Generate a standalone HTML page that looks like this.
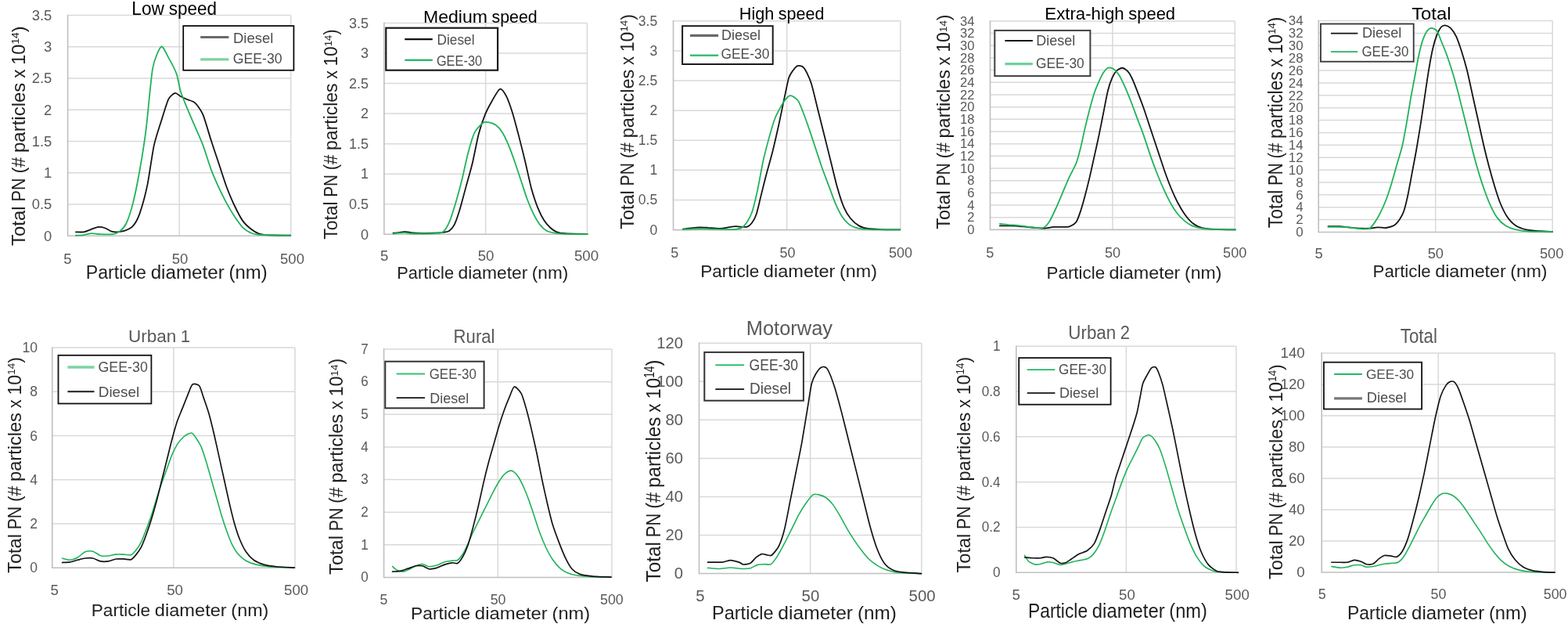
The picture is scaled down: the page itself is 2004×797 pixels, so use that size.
<!DOCTYPE html>
<html><head><meta charset="utf-8"><style>
html,body{margin:0;padding:0;background:#fff;}
svg{display:block;}
text{font-family:"Liberation Sans",Arial,sans-serif;}
</style></head><body>
<svg width="2004" height="797" viewBox="0 0 2004 797">
<rect width="2004" height="797" fill="#fff"/>
<g>
<line x1="86.60" y1="260.96" x2="371.70" y2="260.96" stroke="#d9d9d9" stroke-width="1.5"/>
<line x1="86.60" y1="220.71" x2="371.70" y2="220.71" stroke="#d9d9d9" stroke-width="1.5"/>
<line x1="86.60" y1="180.47" x2="371.70" y2="180.47" stroke="#d9d9d9" stroke-width="1.5"/>
<line x1="86.60" y1="140.23" x2="371.70" y2="140.23" stroke="#d9d9d9" stroke-width="1.5"/>
<line x1="86.60" y1="99.99" x2="371.70" y2="99.99" stroke="#d9d9d9" stroke-width="1.5"/>
<line x1="86.60" y1="59.74" x2="371.70" y2="59.74" stroke="#d9d9d9" stroke-width="1.5"/>
<line x1="86.60" y1="19.50" x2="371.70" y2="19.50" stroke="#d9d9d9" stroke-width="1.5"/>
<line x1="229.15" y1="19.50" x2="229.15" y2="301.20" stroke="#d9d9d9" stroke-width="1.5"/>
<line x1="371.70" y1="19.50" x2="371.70" y2="301.20" stroke="#d9d9d9" stroke-width="1.5"/>
<line x1="86.60" y1="18.75" x2="86.60" y2="302.00" stroke="#bfbfbf" stroke-width="1.6"/>
<line x1="86.60" y1="301.20" x2="372.45" y2="301.20" stroke="#bfbfbf" stroke-width="1.6"/>
<text x="56.07" y="307.50" font-size="18.71" fill="#595959" textLength="10.23" lengthAdjust="spacingAndGlyphs">0</text>
<text x="40.74" y="267.26" font-size="18.71" fill="#595959" textLength="25.56" lengthAdjust="spacingAndGlyphs">0.5</text>
<text x="56.07" y="227.01" font-size="18.71" fill="#595959" textLength="10.23" lengthAdjust="spacingAndGlyphs">1</text>
<text x="40.74" y="186.77" font-size="18.71" fill="#595959" textLength="25.56" lengthAdjust="spacingAndGlyphs">1.5</text>
<text x="56.07" y="146.53" font-size="18.71" fill="#595959" textLength="10.23" lengthAdjust="spacingAndGlyphs">2</text>
<text x="40.74" y="106.29" font-size="18.71" fill="#595959" textLength="25.56" lengthAdjust="spacingAndGlyphs">2.5</text>
<text x="56.07" y="66.04" font-size="18.71" fill="#595959" textLength="10.23" lengthAdjust="spacingAndGlyphs">3</text>
<text x="40.74" y="25.80" font-size="18.71" fill="#595959" textLength="25.56" lengthAdjust="spacingAndGlyphs">3.5</text>
<text x="81.15" y="336.80" font-size="18.86" fill="#595959" textLength="10.31" lengthAdjust="spacingAndGlyphs">5</text>
<text x="219.79" y="336.80" font-size="18.86" fill="#595959" textLength="20.62" lengthAdjust="spacingAndGlyphs">50</text>
<text x="358.04" y="336.80" font-size="18.86" fill="#595959" textLength="30.93" lengthAdjust="spacingAndGlyphs">500</text>
<path d="M96.93,296.35 C98.12,296.35 104.92,296.71 107.09,296.35 C109.26,295.99 113.38,294.05 115.56,293.30 C117.73,292.55 123.54,290.15 125.72,289.92 C127.89,289.68 132.21,290.60 134.18,291.27 C136.16,291.94 140.87,295.08 142.65,295.67 C144.43,296.26 147.45,296.47 149.42,296.35 C151.40,296.23 157.21,295.53 159.58,294.66 C161.95,293.79 167.57,291.35 169.74,288.90 C171.91,286.45 176.03,279.78 178.21,273.66 C180.38,267.54 186.19,246.68 188.36,236.41 C190.54,226.14 194.66,195.49 196.83,185.61 C199.00,175.74 204.82,158.66 206.99,151.75 C209.16,144.84 213.48,130.19 215.46,126.35 C217.43,122.52 222.14,119.30 223.92,118.90 C225.70,118.51 228.92,122.02 230.69,122.97 C232.47,123.91 236.99,126.04 239.16,127.03 C241.33,128.02 246.95,129.14 249.32,131.43 C251.69,133.72 257.11,141.14 259.48,146.67 C261.85,152.20 267.27,171.53 269.64,178.84 C272.01,186.15 277.43,202.21 279.80,209.32 C282.17,216.43 287.59,233.48 289.96,239.80 C292.33,246.12 297.74,258.56 300.12,263.50 C302.49,268.44 307.90,278.77 310.27,282.13 C312.64,285.48 318.06,290.39 320.43,292.29 C322.80,294.18 328.22,297.47 330.59,298.38 C332.96,299.29 336.01,299.80 340.75,300.07 C345.49,300.35 367.67,300.67 371.23,300.75" fill="none" stroke="#141414" stroke-width="1.8" stroke-linejoin="round" stroke-linecap="round"/>
<path d="M96.93,300.75 C98.12,300.67 104.72,300.39 107.09,300.07 C109.46,299.76 114.88,298.16 117.25,298.04 C119.62,297.92 124.25,298.94 127.41,299.06 C130.57,299.18 141.38,299.45 144.34,299.06 C147.30,298.66 150.83,297.25 152.81,295.67 C154.78,294.09 159.30,289.66 161.27,285.51 C163.25,281.36 167.76,267.82 169.74,260.12 C171.71,252.41 176.23,230.54 178.21,219.48 C180.18,208.42 184.70,180.70 186.67,165.30 C188.65,149.89 192.89,99.74 195.14,87.41 C197.39,75.08 203.60,61.22 205.97,59.64 C208.34,58.06 213.16,69.83 215.46,73.86 C217.75,77.89 223.84,89.24 225.61,94.18 C227.39,99.12 229.11,111.06 230.69,116.19 C232.27,121.33 236.99,132.87 239.16,138.21 C241.33,143.54 246.95,156.38 249.32,161.91 C251.69,167.44 257.11,179.29 259.48,185.61 C261.85,191.94 267.27,209.77 269.64,216.09 C272.01,222.41 277.43,234.66 279.80,239.80 C282.17,244.93 287.59,255.77 289.96,260.12 C292.33,264.46 297.74,273.49 300.12,277.05 C302.49,280.60 307.90,288.22 310.27,290.59 C312.64,292.96 318.06,296.30 320.43,297.37 C322.80,298.43 324.67,299.34 330.59,299.74 C336.52,300.13 366.49,300.63 371.23,300.75" fill="none" stroke="#1fb35a" stroke-width="1.8" stroke-linejoin="round" stroke-linecap="round"/>
<rect x="234.25" y="33.05" width="141.20" height="56.70" fill="#fff" stroke="#000" stroke-width="1.7"/>
<line x1="256.20" y1="47.50" x2="292.40" y2="47.50" stroke="#6a6a6a" stroke-width="3.2"/>
<text x="297.90" y="55.10" font-size="18.60" fill="#4d4d4d" textLength="51.50" lengthAdjust="spacingAndGlyphs">Diesel</text>
<line x1="256.20" y1="75.90" x2="292.40" y2="75.90" stroke="#7dd3a0" stroke-width="3.2"/>
<text x="297.70" y="81.40" font-size="18.90" fill="#4d4d4d" textLength="63.00" lengthAdjust="spacingAndGlyphs">GEE-30</text>
<text x="168.30" y="18.60" font-size="23.69" fill="#000" textLength="41.68" lengthAdjust="spacingAndGlyphs">Low</text>
<text x="215.66" y="18.60" font-size="23.69" fill="#000" textLength="61.24" lengthAdjust="spacingAndGlyphs">speed</text>
<text x="109.80" y="355.80" font-size="24.56" fill="#1f1f1f" textLength="77.11" lengthAdjust="spacingAndGlyphs">Particle</text>
<text x="192.66" y="355.80" font-size="24.56" fill="#1f1f1f" textLength="94.05" lengthAdjust="spacingAndGlyphs">diameter</text>
<text x="292.46" y="355.80" font-size="24.56" fill="#1f1f1f" textLength="49.14" lengthAdjust="spacingAndGlyphs">(nm)</text>
<text transform="translate(31.70,314.00) rotate(-90)" x="0" y="0" font-size="23.69" fill="#1f1f1f" textLength="50.64" lengthAdjust="spacingAndGlyphs">Total</text>
<text transform="translate(31.70,257.51) rotate(-90)" x="0" y="0" font-size="23.69" fill="#1f1f1f" textLength="30.07" lengthAdjust="spacingAndGlyphs">PN</text>
<text transform="translate(31.70,221.59) rotate(-90)" x="0" y="0" font-size="23.69" fill="#1f1f1f" textLength="20.74" lengthAdjust="spacingAndGlyphs">(#</text>
<text transform="translate(31.70,195.00) rotate(-90)" x="0" y="0" font-size="23.69" fill="#1f1f1f" textLength="89.30" lengthAdjust="spacingAndGlyphs">particles</text>
<text transform="translate(31.70,99.85) rotate(-90)" x="0" y="0" font-size="23.69" fill="#1f1f1f" textLength="11.21" lengthAdjust="spacingAndGlyphs">x</text>
<text transform="translate(31.70,82.79) rotate(-90)" x="0" y="0" font-size="23.69" fill="#1f1f1f" textLength="26.23" lengthAdjust="spacingAndGlyphs">10</text>
<text transform="translate(23.50,56.56) rotate(-90)" x="0" y="0" font-size="12.14" fill="#1f1f1f" textLength="15.21" lengthAdjust="spacingAndGlyphs">14</text>
<text transform="translate(31.70,41.35) rotate(-90)" x="0" y="0" font-size="23.69" fill="#1f1f1f" textLength="7.85" lengthAdjust="spacingAndGlyphs">)</text>
</g>
<g>
<line x1="490.90" y1="260.74" x2="750.40" y2="260.74" stroke="#d9d9d9" stroke-width="1.5"/>
<line x1="490.90" y1="222.19" x2="750.40" y2="222.19" stroke="#d9d9d9" stroke-width="1.5"/>
<line x1="490.90" y1="183.63" x2="750.40" y2="183.63" stroke="#d9d9d9" stroke-width="1.5"/>
<line x1="490.90" y1="145.07" x2="750.40" y2="145.07" stroke="#d9d9d9" stroke-width="1.5"/>
<line x1="490.90" y1="106.51" x2="750.40" y2="106.51" stroke="#d9d9d9" stroke-width="1.5"/>
<line x1="490.90" y1="67.96" x2="750.40" y2="67.96" stroke="#d9d9d9" stroke-width="1.5"/>
<line x1="490.90" y1="29.40" x2="750.40" y2="29.40" stroke="#d9d9d9" stroke-width="1.5"/>
<line x1="620.65" y1="29.40" x2="620.65" y2="299.30" stroke="#d9d9d9" stroke-width="1.5"/>
<line x1="750.40" y1="29.40" x2="750.40" y2="299.30" stroke="#d9d9d9" stroke-width="1.5"/>
<line x1="490.90" y1="28.65" x2="490.90" y2="300.10" stroke="#bfbfbf" stroke-width="1.6"/>
<line x1="490.90" y1="299.30" x2="751.15" y2="299.30" stroke="#bfbfbf" stroke-width="1.6"/>
<text x="461.12" y="305.50" font-size="18.43" fill="#595959" textLength="10.08" lengthAdjust="spacingAndGlyphs">0</text>
<text x="446.03" y="266.94" font-size="18.43" fill="#595959" textLength="25.17" lengthAdjust="spacingAndGlyphs">0.5</text>
<text x="461.12" y="228.39" font-size="18.43" fill="#595959" textLength="10.08" lengthAdjust="spacingAndGlyphs">1</text>
<text x="446.03" y="189.83" font-size="18.43" fill="#595959" textLength="25.17" lengthAdjust="spacingAndGlyphs">1.5</text>
<text x="461.12" y="151.27" font-size="18.43" fill="#595959" textLength="10.08" lengthAdjust="spacingAndGlyphs">2</text>
<text x="446.03" y="112.71" font-size="18.43" fill="#595959" textLength="25.17" lengthAdjust="spacingAndGlyphs">2.5</text>
<text x="461.12" y="74.16" font-size="18.43" fill="#595959" textLength="10.08" lengthAdjust="spacingAndGlyphs">3</text>
<text x="446.03" y="35.60" font-size="18.43" fill="#595959" textLength="25.17" lengthAdjust="spacingAndGlyphs">3.5</text>
<text x="486.01" y="333.00" font-size="19.00" fill="#595959" textLength="10.39" lengthAdjust="spacingAndGlyphs">5</text>
<text x="610.71" y="333.00" font-size="19.00" fill="#595959" textLength="20.77" lengthAdjust="spacingAndGlyphs">50</text>
<text x="733.92" y="333.00" font-size="19.00" fill="#595959" textLength="31.16" lengthAdjust="spacingAndGlyphs">500</text>
<path d="M502.53,297.72 C503.32,297.65 507.55,297.40 509.28,297.18 C511.01,296.96 515.48,295.83 517.37,295.83 C519.26,295.83 522.95,296.92 525.46,297.18 C527.98,297.43 535.80,297.92 538.95,297.98 C542.10,298.05 549.29,297.84 552.44,297.72 C555.59,297.59 563.41,297.22 565.93,296.91 C568.45,296.59 572.29,296.18 574.02,295.02 C575.75,293.85 579.19,290.07 580.76,286.92 C582.34,283.78 585.78,273.71 587.51,268.04 C589.24,262.38 593.71,245.29 595.60,238.37 C597.49,231.44 601.81,216.56 603.69,208.69 C605.58,200.83 609.90,178.17 611.79,170.93 C613.68,163.69 617.99,151.37 619.88,146.65 C621.77,141.93 625.77,134.30 627.97,130.46 C630.18,126.62 636.56,114.68 638.76,113.74 C640.97,112.79 644.97,118.85 646.86,122.37 C648.74,125.90 653.06,137.97 654.95,143.95 C656.84,149.93 661.15,166.39 663.04,173.63 C664.93,180.86 669.25,198.13 671.13,206.00 C673.02,213.86 677.34,234.14 679.23,241.07 C681.12,247.99 685.43,260.62 687.32,265.34 C689.21,270.06 693.52,278.54 695.41,281.53 C697.30,284.52 701.62,289.24 703.51,290.97 C705.39,292.70 709.40,295.52 711.60,296.37 C713.80,297.22 717.83,297.94 722.39,298.25 C726.95,298.57 747.41,298.97 750.71,299.06" fill="none" stroke="#141414" stroke-width="1.8" stroke-linejoin="round" stroke-linecap="round"/>
<path d="M502.53,298.52 C503.32,298.43 507.55,297.87 509.28,297.72 C511.01,297.56 515.48,297.11 517.37,297.18 C519.26,297.24 522.95,298.10 525.46,298.25 C527.98,298.41 535.80,298.52 538.95,298.52 C542.10,298.52 549.29,298.51 552.44,298.25 C555.59,298.00 563.41,298.00 565.93,296.37 C568.45,294.73 572.13,288.48 574.02,284.23 C575.91,279.98 580.23,266.24 582.11,259.95 C584.00,253.65 588.32,237.83 590.21,230.28 C592.09,222.72 596.41,202.29 598.30,195.21 C600.19,188.13 604.19,174.05 606.39,169.58 C608.60,165.11 614.98,158.44 617.18,156.90 C619.39,155.36 623.39,156.05 625.28,156.36 C627.16,156.68 631.48,158.21 633.37,159.60 C635.26,160.98 639.57,165.33 641.46,168.23 C643.35,171.13 647.67,180.01 649.55,184.42 C651.44,188.82 655.76,200.65 657.65,206.00 C659.53,211.35 663.85,224.61 665.74,230.28 C667.63,235.94 671.94,249.52 673.83,254.55 C675.72,259.59 680.04,269.66 681.92,273.44 C683.81,277.21 688.13,284.47 690.02,286.92 C691.91,289.38 695.91,293.22 698.11,294.48 C700.31,295.74 706.07,297.21 708.90,297.72 C711.73,298.22 717.51,298.64 722.39,298.79 C727.27,298.95 747.41,299.03 750.71,299.06" fill="none" stroke="#1fb35a" stroke-width="1.8" stroke-linejoin="round" stroke-linecap="round"/>
<rect x="493.30" y="35.70" width="142.80" height="54.00" fill="#fff" stroke="#1a1a1a" stroke-width="2.2"/>
<line x1="517.30" y1="50.20" x2="552.80" y2="50.20" stroke="#111" stroke-width="2.2"/>
<text x="558.50" y="57.20" font-size="19.19" fill="#4d4d4d" textLength="48.00" lengthAdjust="spacingAndGlyphs">Diesel</text>
<line x1="517.30" y1="76.70" x2="552.80" y2="76.70" stroke="#00b050" stroke-width="2"/>
<text x="557.90" y="83.50" font-size="18.90" fill="#4d4d4d" textLength="58.20" lengthAdjust="spacingAndGlyphs">GEE-30</text>
<text x="541.00" y="29.00" font-size="22.82" fill="#000" textLength="82.04" lengthAdjust="spacingAndGlyphs">Medium</text>
<text x="628.44" y="29.00" font-size="22.82" fill="#000" textLength="58.26" lengthAdjust="spacingAndGlyphs">speed</text>
<text x="507.20" y="355.70" font-size="22.09" fill="#1f1f1f" textLength="72.88" lengthAdjust="spacingAndGlyphs">Particle</text>
<text x="585.52" y="355.70" font-size="22.09" fill="#1f1f1f" textLength="88.89" lengthAdjust="spacingAndGlyphs">diameter</text>
<text x="679.85" y="355.70" font-size="22.09" fill="#1f1f1f" textLength="46.45" lengthAdjust="spacingAndGlyphs">(nm)</text>
<text transform="translate(431.30,305.80) rotate(-90)" x="0" y="0" font-size="23.98" fill="#1f1f1f" textLength="48.48" lengthAdjust="spacingAndGlyphs">Total</text>
<text transform="translate(431.30,251.72) rotate(-90)" x="0" y="0" font-size="23.98" fill="#1f1f1f" textLength="28.78" lengthAdjust="spacingAndGlyphs">PN</text>
<text transform="translate(431.30,217.34) rotate(-90)" x="0" y="0" font-size="23.98" fill="#1f1f1f" textLength="19.85" lengthAdjust="spacingAndGlyphs">(#</text>
<text transform="translate(431.30,191.89) rotate(-90)" x="0" y="0" font-size="23.98" fill="#1f1f1f" textLength="85.48" lengthAdjust="spacingAndGlyphs">particles</text>
<text transform="translate(431.30,100.81) rotate(-90)" x="0" y="0" font-size="23.98" fill="#1f1f1f" textLength="10.73" lengthAdjust="spacingAndGlyphs">x</text>
<text transform="translate(431.30,84.48) rotate(-90)" x="0" y="0" font-size="23.98" fill="#1f1f1f" textLength="25.11" lengthAdjust="spacingAndGlyphs">10</text>
<text transform="translate(423.50,59.37) rotate(-90)" x="0" y="0" font-size="13.57" fill="#1f1f1f" textLength="14.56" lengthAdjust="spacingAndGlyphs">14</text>
<text transform="translate(431.30,44.81) rotate(-90)" x="0" y="0" font-size="23.98" fill="#1f1f1f" textLength="7.51" lengthAdjust="spacingAndGlyphs">)</text>
</g>
<g>
<line x1="860.50" y1="255.49" x2="1150.80" y2="255.49" stroke="#d9d9d9" stroke-width="1.5"/>
<line x1="860.50" y1="217.37" x2="1150.80" y2="217.37" stroke="#d9d9d9" stroke-width="1.5"/>
<line x1="860.50" y1="179.26" x2="1150.80" y2="179.26" stroke="#d9d9d9" stroke-width="1.5"/>
<line x1="860.50" y1="141.14" x2="1150.80" y2="141.14" stroke="#d9d9d9" stroke-width="1.5"/>
<line x1="860.50" y1="103.03" x2="1150.80" y2="103.03" stroke="#d9d9d9" stroke-width="1.5"/>
<line x1="860.50" y1="64.91" x2="1150.80" y2="64.91" stroke="#d9d9d9" stroke-width="1.5"/>
<line x1="860.50" y1="26.80" x2="1150.80" y2="26.80" stroke="#d9d9d9" stroke-width="1.5"/>
<line x1="1005.65" y1="26.80" x2="1005.65" y2="293.60" stroke="#d9d9d9" stroke-width="1.5"/>
<line x1="1150.80" y1="26.80" x2="1150.80" y2="293.60" stroke="#d9d9d9" stroke-width="1.5"/>
<line x1="860.50" y1="26.05" x2="860.50" y2="294.40" stroke="#bfbfbf" stroke-width="1.6"/>
<line x1="860.50" y1="293.60" x2="1151.55" y2="293.60" stroke="#bfbfbf" stroke-width="1.6"/>
<text x="830.44" y="299.60" font-size="17.86" fill="#595959" textLength="9.76" lengthAdjust="spacingAndGlyphs">0</text>
<text x="815.81" y="261.49" font-size="17.86" fill="#595959" textLength="24.39" lengthAdjust="spacingAndGlyphs">0.5</text>
<text x="830.44" y="223.37" font-size="17.86" fill="#595959" textLength="9.76" lengthAdjust="spacingAndGlyphs">1</text>
<text x="815.81" y="185.26" font-size="17.86" fill="#595959" textLength="24.39" lengthAdjust="spacingAndGlyphs">1.5</text>
<text x="830.44" y="147.14" font-size="17.86" fill="#595959" textLength="9.76" lengthAdjust="spacingAndGlyphs">2</text>
<text x="815.81" y="109.03" font-size="17.86" fill="#595959" textLength="24.39" lengthAdjust="spacingAndGlyphs">2.5</text>
<text x="830.44" y="70.91" font-size="17.86" fill="#595959" textLength="9.76" lengthAdjust="spacingAndGlyphs">3</text>
<text x="815.81" y="32.80" font-size="17.86" fill="#595959" textLength="24.39" lengthAdjust="spacingAndGlyphs">3.5</text>
<text x="857.30" y="328.90" font-size="18.29" fill="#595959" textLength="10.00" lengthAdjust="spacingAndGlyphs">5</text>
<text x="996.40" y="328.90" font-size="18.29" fill="#595959" textLength="19.99" lengthAdjust="spacingAndGlyphs">50</text>
<text x="1136.00" y="328.90" font-size="18.29" fill="#595959" textLength="29.99" lengthAdjust="spacingAndGlyphs">500</text>
<path d="M872.94,292.53 C874.07,292.40 880.19,291.68 882.60,291.43 C885.02,291.17 891.07,290.39 893.64,290.32 C896.22,290.26 901.78,290.68 904.68,290.87 C907.58,291.07 915.59,292.01 918.48,291.98 C921.38,291.95 926.95,290.92 929.52,290.60 C932.10,290.28 937.67,289.32 940.56,289.22 C943.46,289.12 951.95,290.35 954.37,289.77 C956.78,289.19 959.82,286.18 961.27,284.25 C962.71,282.32 965.50,277.07 966.79,273.21 C968.07,269.35 970.86,256.93 972.31,251.13 C973.76,245.33 977.44,230.29 979.21,223.53 C980.98,216.77 985.55,200.89 987.49,193.17 C989.42,185.44 994.00,165.33 995.77,157.28 C997.54,149.23 1001.22,130.92 1002.67,124.16 C1004.12,117.40 1006.90,103.35 1008.19,99.32 C1009.48,95.30 1012.42,91.43 1013.71,89.66 C1015.00,87.89 1017.78,84.62 1019.23,84.14 C1020.68,83.66 1024.68,84.39 1026.13,85.52 C1027.58,86.65 1030.36,91.22 1031.65,93.80 C1032.94,96.38 1035.56,102.13 1037.17,107.60 C1038.78,113.08 1043.52,132.99 1045.45,140.72 C1047.38,148.45 1051.80,166.12 1053.73,173.84 C1055.66,181.57 1060.08,199.24 1062.01,206.97 C1063.94,214.70 1068.36,233.33 1070.29,240.09 C1072.22,246.85 1076.64,260.42 1078.57,264.93 C1080.50,269.44 1084.60,275.99 1086.85,278.73 C1089.11,281.47 1095.32,286.85 1097.89,288.39 C1100.47,289.94 1105.71,291.43 1108.93,291.98 C1112.15,292.53 1120.66,292.92 1125.49,293.08 C1130.32,293.24 1147.44,293.33 1150.34,293.36" fill="none" stroke="#141414" stroke-width="1.8" stroke-linejoin="round" stroke-linecap="round"/>
<path d="M872.94,293.08 C874.07,293.02 879.86,292.66 882.60,292.53 C885.34,292.40 893.18,291.98 896.40,291.98 C899.62,291.98 906.66,292.40 910.20,292.53 C913.75,292.66 923.54,293.02 926.76,293.08 C929.98,293.15 935.39,293.31 937.80,293.08 C940.22,292.86 945.53,292.18 947.46,291.15 C949.40,290.12 952.76,286.67 954.37,284.25 C955.98,281.84 959.66,275.28 961.27,270.45 C962.88,265.62 966.56,250.25 968.17,242.85 C969.78,235.44 973.46,214.37 975.07,206.97 C976.68,199.56 980.20,185.81 981.97,179.37 C983.74,172.92 988.31,156.92 990.25,151.76 C992.18,146.61 996.92,138.10 998.53,135.20 C1000.14,132.30 1002.76,128.44 1004.05,126.92 C1005.34,125.41 1008.28,122.55 1009.57,122.23 C1010.86,121.91 1013.80,123.29 1015.09,124.16 C1016.38,125.03 1019.16,127.11 1020.61,129.68 C1022.06,132.26 1025.90,142.06 1027.51,146.24 C1029.12,150.43 1032.64,160.41 1034.41,165.56 C1036.18,170.72 1040.76,184.61 1042.69,190.41 C1044.62,196.20 1049.04,209.77 1050.97,215.25 C1052.90,220.72 1057.32,232.18 1059.25,237.33 C1061.18,242.48 1065.60,254.90 1067.53,259.41 C1069.46,263.92 1073.88,272.91 1075.81,275.97 C1077.74,279.03 1082.16,283.96 1084.09,285.63 C1086.02,287.31 1090.12,289.52 1092.37,290.32 C1094.63,291.13 1100.19,292.18 1103.41,292.53 C1106.63,292.89 1114.50,293.26 1119.97,293.36 C1125.45,293.46 1146.79,293.36 1150.34,293.36" fill="none" stroke="#1fb35a" stroke-width="1.8" stroke-linejoin="round" stroke-linecap="round"/>
<rect x="872.10" y="33.20" width="115.60" height="48.80" fill="#fff" stroke="#1a1a1a" stroke-width="2"/>
<line x1="882.00" y1="45.40" x2="918.10" y2="45.40" stroke="#6a6a6a" stroke-width="3.4"/>
<text x="922.10" y="51.40" font-size="18.90" fill="#4d4d4d" textLength="49.90" lengthAdjust="spacingAndGlyphs">Diesel</text>
<line x1="882.00" y1="70.80" x2="918.10" y2="70.80" stroke="#3cbf70" stroke-width="2.4"/>
<text x="921.50" y="75.40" font-size="17.73" fill="#4d4d4d" textLength="61.80" lengthAdjust="spacingAndGlyphs">GEE-30</text>
<text x="944.80" y="24.75" font-size="22.46" fill="#000" textLength="44.58" lengthAdjust="spacingAndGlyphs">High</text>
<text x="994.84" y="24.75" font-size="22.46" fill="#000" textLength="58.76" lengthAdjust="spacingAndGlyphs">speed</text>
<text x="895.20" y="354.20" font-size="22.24" fill="#1f1f1f" textLength="75.08" lengthAdjust="spacingAndGlyphs">Particle</text>
<text x="975.88" y="354.20" font-size="22.24" fill="#1f1f1f" textLength="91.57" lengthAdjust="spacingAndGlyphs">diameter</text>
<text x="1073.05" y="354.20" font-size="22.24" fill="#1f1f1f" textLength="47.85" lengthAdjust="spacingAndGlyphs">(nm)</text>
<text transform="translate(809.90,292.80) rotate(-90)" x="0" y="0" font-size="24.13" fill="#1f1f1f" textLength="49.61" lengthAdjust="spacingAndGlyphs">Total</text>
<text transform="translate(809.90,237.46) rotate(-90)" x="0" y="0" font-size="24.13" fill="#1f1f1f" textLength="29.46" lengthAdjust="spacingAndGlyphs">PN</text>
<text transform="translate(809.90,202.27) rotate(-90)" x="0" y="0" font-size="24.13" fill="#1f1f1f" textLength="20.32" lengthAdjust="spacingAndGlyphs">(#</text>
<text transform="translate(809.90,176.22) rotate(-90)" x="0" y="0" font-size="24.13" fill="#1f1f1f" textLength="87.49" lengthAdjust="spacingAndGlyphs">particles</text>
<text transform="translate(809.90,83.00) rotate(-90)" x="0" y="0" font-size="24.13" fill="#1f1f1f" textLength="10.98" lengthAdjust="spacingAndGlyphs">x</text>
<text transform="translate(809.90,66.29) rotate(-90)" x="0" y="0" font-size="24.13" fill="#1f1f1f" textLength="25.70" lengthAdjust="spacingAndGlyphs">10</text>
<text transform="translate(802.00,40.59) rotate(-90)" x="0" y="0" font-size="12.86" fill="#1f1f1f" textLength="14.90" lengthAdjust="spacingAndGlyphs">14</text>
<text transform="translate(809.90,25.69) rotate(-90)" x="0" y="0" font-size="24.13" fill="#1f1f1f" textLength="7.69" lengthAdjust="spacingAndGlyphs">)</text>
</g>
<g>
<line x1="1265.50" y1="277.72" x2="1578.30" y2="277.72" stroke="#d9d9d9" stroke-width="1.5"/>
<line x1="1265.50" y1="262.05" x2="1578.30" y2="262.05" stroke="#d9d9d9" stroke-width="1.5"/>
<line x1="1265.50" y1="246.37" x2="1578.30" y2="246.37" stroke="#d9d9d9" stroke-width="1.5"/>
<line x1="1265.50" y1="230.69" x2="1578.30" y2="230.69" stroke="#d9d9d9" stroke-width="1.5"/>
<line x1="1265.50" y1="215.02" x2="1578.30" y2="215.02" stroke="#d9d9d9" stroke-width="1.5"/>
<line x1="1265.50" y1="199.34" x2="1578.30" y2="199.34" stroke="#d9d9d9" stroke-width="1.5"/>
<line x1="1265.50" y1="183.66" x2="1578.30" y2="183.66" stroke="#d9d9d9" stroke-width="1.5"/>
<line x1="1265.50" y1="167.99" x2="1578.30" y2="167.99" stroke="#d9d9d9" stroke-width="1.5"/>
<line x1="1265.50" y1="152.31" x2="1578.30" y2="152.31" stroke="#d9d9d9" stroke-width="1.5"/>
<line x1="1265.50" y1="136.64" x2="1578.30" y2="136.64" stroke="#d9d9d9" stroke-width="1.5"/>
<line x1="1265.50" y1="120.96" x2="1578.30" y2="120.96" stroke="#d9d9d9" stroke-width="1.5"/>
<line x1="1265.50" y1="105.28" x2="1578.30" y2="105.28" stroke="#d9d9d9" stroke-width="1.5"/>
<line x1="1265.50" y1="89.61" x2="1578.30" y2="89.61" stroke="#d9d9d9" stroke-width="1.5"/>
<line x1="1265.50" y1="73.93" x2="1578.30" y2="73.93" stroke="#d9d9d9" stroke-width="1.5"/>
<line x1="1265.50" y1="58.25" x2="1578.30" y2="58.25" stroke="#d9d9d9" stroke-width="1.5"/>
<line x1="1265.50" y1="42.58" x2="1578.30" y2="42.58" stroke="#d9d9d9" stroke-width="1.5"/>
<line x1="1265.50" y1="26.90" x2="1578.30" y2="26.90" stroke="#d9d9d9" stroke-width="1.5"/>
<line x1="1421.90" y1="26.90" x2="1421.90" y2="293.40" stroke="#d9d9d9" stroke-width="1.5"/>
<line x1="1578.30" y1="26.90" x2="1578.30" y2="293.40" stroke="#d9d9d9" stroke-width="1.5"/>
<line x1="1265.50" y1="26.15" x2="1265.50" y2="294.20" stroke="#bfbfbf" stroke-width="1.6"/>
<line x1="1265.50" y1="293.40" x2="1579.05" y2="293.40" stroke="#bfbfbf" stroke-width="1.6"/>
<text x="1236.28" y="299.05" font-size="16.86" fill="#595959" textLength="9.22" lengthAdjust="spacingAndGlyphs">0</text>
<text x="1236.28" y="283.37" font-size="16.86" fill="#595959" textLength="9.22" lengthAdjust="spacingAndGlyphs">2</text>
<text x="1236.28" y="267.70" font-size="16.86" fill="#595959" textLength="9.22" lengthAdjust="spacingAndGlyphs">4</text>
<text x="1236.28" y="252.02" font-size="16.86" fill="#595959" textLength="9.22" lengthAdjust="spacingAndGlyphs">6</text>
<text x="1236.28" y="236.34" font-size="16.86" fill="#595959" textLength="9.22" lengthAdjust="spacingAndGlyphs">8</text>
<text x="1227.07" y="220.67" font-size="16.86" fill="#595959" textLength="18.43" lengthAdjust="spacingAndGlyphs">10</text>
<text x="1227.07" y="204.99" font-size="16.86" fill="#595959" textLength="18.43" lengthAdjust="spacingAndGlyphs">12</text>
<text x="1227.07" y="189.31" font-size="16.86" fill="#595959" textLength="18.43" lengthAdjust="spacingAndGlyphs">14</text>
<text x="1227.07" y="173.64" font-size="16.86" fill="#595959" textLength="18.43" lengthAdjust="spacingAndGlyphs">16</text>
<text x="1227.07" y="157.96" font-size="16.86" fill="#595959" textLength="18.43" lengthAdjust="spacingAndGlyphs">18</text>
<text x="1227.07" y="142.29" font-size="16.86" fill="#595959" textLength="18.43" lengthAdjust="spacingAndGlyphs">20</text>
<text x="1227.07" y="126.61" font-size="16.86" fill="#595959" textLength="18.43" lengthAdjust="spacingAndGlyphs">22</text>
<text x="1227.07" y="110.93" font-size="16.86" fill="#595959" textLength="18.43" lengthAdjust="spacingAndGlyphs">24</text>
<text x="1227.07" y="95.26" font-size="16.86" fill="#595959" textLength="18.43" lengthAdjust="spacingAndGlyphs">26</text>
<text x="1227.07" y="79.58" font-size="16.86" fill="#595959" textLength="18.43" lengthAdjust="spacingAndGlyphs">28</text>
<text x="1227.07" y="63.90" font-size="16.86" fill="#595959" textLength="18.43" lengthAdjust="spacingAndGlyphs">30</text>
<text x="1227.07" y="48.23" font-size="16.86" fill="#595959" textLength="18.43" lengthAdjust="spacingAndGlyphs">32</text>
<text x="1227.07" y="32.55" font-size="16.86" fill="#595959" textLength="18.43" lengthAdjust="spacingAndGlyphs">34</text>
<text x="1260.16" y="328.70" font-size="18.43" fill="#595959" textLength="10.08" lengthAdjust="spacingAndGlyphs">5</text>
<text x="1411.92" y="328.70" font-size="18.43" fill="#595959" textLength="20.15" lengthAdjust="spacingAndGlyphs">50</text>
<text x="1563.09" y="328.70" font-size="18.43" fill="#595959" textLength="30.23" lengthAdjust="spacingAndGlyphs">500</text>
<path d="M1277.89,288.47 C1279.17,288.47 1286.23,288.44 1288.86,288.47 C1291.49,288.50 1297.71,288.59 1300.40,288.76 C1303.10,288.93 1308.92,289.64 1311.95,289.91 C1314.98,290.18 1323.68,290.87 1326.38,291.07 C1329.07,291.27 1332.68,291.78 1335.04,291.65 C1337.39,291.51 1343.89,290.12 1346.58,289.91 C1349.27,289.71 1355.77,289.98 1358.12,289.91 C1360.48,289.85 1364.76,290.08 1366.78,289.34 C1368.80,288.60 1373.76,285.92 1375.44,283.56 C1377.12,281.21 1379.87,273.17 1381.21,269.13 C1382.56,265.09 1385.64,253.98 1386.98,248.93 C1388.33,243.88 1391.41,231.57 1392.76,225.84 C1394.10,220.12 1397.18,205.93 1398.53,199.87 C1399.87,193.81 1402.95,180.29 1404.30,173.90 C1405.65,167.50 1408.73,151.77 1410.07,145.04 C1411.42,138.30 1414.50,121.56 1415.84,116.18 C1417.19,110.79 1420.27,101.89 1421.62,98.86 C1422.96,95.83 1425.87,91.62 1427.39,90.20 C1428.90,88.79 1432.92,86.57 1434.60,86.74 C1436.29,86.91 1440.30,89.89 1441.82,91.65 C1443.33,93.40 1446.24,98.88 1447.59,101.75 C1448.94,104.61 1451.68,111.80 1453.36,116.18 C1455.05,120.55 1460.00,133.54 1462.02,139.26 C1464.04,144.99 1468.66,159.18 1470.68,165.24 C1472.70,171.30 1477.32,185.15 1479.34,191.21 C1481.36,197.27 1485.97,211.46 1487.99,217.19 C1490.01,222.91 1494.63,235.39 1496.65,240.27 C1498.67,245.16 1503.29,255.16 1505.31,259.03 C1507.33,262.91 1511.95,270.60 1513.97,273.46 C1515.99,276.33 1520.61,281.71 1522.63,283.56 C1524.65,285.42 1528.93,288.33 1531.28,289.34 C1533.64,290.35 1539.46,291.78 1542.83,292.22 C1546.20,292.66 1555.94,292.95 1560.14,293.09 C1564.35,293.22 1576.71,293.34 1578.90,293.38" fill="none" stroke="#141414" stroke-width="1.8" stroke-linejoin="round" stroke-linecap="round"/>
<path d="M1277.89,285.87 C1279.17,286.01 1286.23,286.79 1288.86,287.03 C1291.49,287.26 1297.71,287.62 1300.40,287.89 C1303.10,288.16 1309.25,289.00 1311.95,289.34 C1314.64,289.67 1320.97,290.61 1323.49,290.78 C1326.02,290.95 1331.57,291.62 1333.59,290.78 C1335.61,289.94 1338.96,286.43 1340.81,283.56 C1342.66,280.70 1347.45,270.63 1349.47,266.25 C1351.49,261.87 1356.10,250.76 1358.12,246.05 C1360.14,241.33 1364.76,230.22 1366.78,225.84 C1368.80,221.47 1373.76,212.91 1375.44,208.53 C1377.12,204.15 1379.87,193.71 1381.21,188.33 C1382.56,182.94 1385.64,168.08 1386.98,162.35 C1388.33,156.63 1391.41,144.31 1392.76,139.26 C1394.10,134.21 1397.18,123.10 1398.53,119.06 C1399.87,115.02 1402.95,107.66 1404.30,104.63 C1405.65,101.60 1408.73,95.18 1410.07,93.09 C1411.42,91.00 1414.33,87.34 1415.84,86.74 C1417.36,86.13 1421.38,86.82 1423.06,87.89 C1424.74,88.97 1428.59,93.35 1430.27,95.97 C1431.96,98.60 1435.81,106.70 1437.49,110.40 C1439.17,114.11 1442.85,123.01 1444.70,127.72 C1446.56,132.43 1451.34,145.42 1453.36,150.81 C1455.38,156.20 1460.00,168.17 1462.02,173.90 C1464.04,179.62 1468.66,194.15 1470.68,199.87 C1472.70,205.59 1477.32,217.91 1479.34,222.96 C1481.36,228.01 1485.97,238.78 1487.99,243.16 C1490.01,247.54 1494.63,256.94 1496.65,260.48 C1498.67,264.01 1503.29,270.94 1505.31,273.46 C1507.33,275.99 1511.95,280.44 1513.97,282.12 C1515.99,283.80 1520.27,286.82 1522.63,287.89 C1524.98,288.97 1531.14,290.78 1534.17,291.36 C1537.20,291.93 1543.38,292.56 1548.60,292.80 C1553.82,293.04 1575.37,293.31 1578.90,293.38" fill="none" stroke="#1fb35a" stroke-width="1.8" stroke-linejoin="round" stroke-linecap="round"/>
<rect x="1271.30" y="38.90" width="122.10" height="58.20" fill="#fff" stroke="#404040" stroke-width="2"/>
<line x1="1284.40" y1="52.00" x2="1319.90" y2="52.00" stroke="#111" stroke-width="2"/>
<text x="1324.30" y="58.20" font-size="18.60" fill="#4d4d4d" textLength="50.00" lengthAdjust="spacingAndGlyphs">Diesel</text>
<line x1="1284.40" y1="81.70" x2="1319.90" y2="81.70" stroke="#70d09a" stroke-width="3.2"/>
<text x="1323.90" y="86.90" font-size="18.17" fill="#4d4d4d" textLength="61.90" lengthAdjust="spacingAndGlyphs">GEE-30</text>
<text x="1335.30" y="24.70" font-size="21.80" fill="#000" textLength="101.35" lengthAdjust="spacingAndGlyphs">Extra-high</text>
<text x="1442.21" y="24.70" font-size="21.80" fill="#000" textLength="59.89" lengthAdjust="spacingAndGlyphs">speed</text>
<text x="1337.60" y="356.10" font-size="22.67" fill="#1f1f1f" textLength="74.45" lengthAdjust="spacingAndGlyphs">Particle</text>
<text x="1417.60" y="356.10" font-size="22.67" fill="#1f1f1f" textLength="90.80" lengthAdjust="spacingAndGlyphs">diameter</text>
<text x="1513.96" y="356.10" font-size="22.67" fill="#1f1f1f" textLength="47.44" lengthAdjust="spacingAndGlyphs">(nm)</text>
<text transform="translate(1214.10,292.80) rotate(-90)" x="0" y="0" font-size="24.13" fill="#1f1f1f" textLength="49.52" lengthAdjust="spacingAndGlyphs">Total</text>
<text transform="translate(1214.10,237.56) rotate(-90)" x="0" y="0" font-size="24.13" fill="#1f1f1f" textLength="29.40" lengthAdjust="spacingAndGlyphs">PN</text>
<text transform="translate(1214.10,202.43) rotate(-90)" x="0" y="0" font-size="24.13" fill="#1f1f1f" textLength="20.28" lengthAdjust="spacingAndGlyphs">(#</text>
<text transform="translate(1214.10,176.43) rotate(-90)" x="0" y="0" font-size="24.13" fill="#1f1f1f" textLength="87.33" lengthAdjust="spacingAndGlyphs">particles</text>
<text transform="translate(1214.10,83.38) rotate(-90)" x="0" y="0" font-size="24.13" fill="#1f1f1f" textLength="10.96" lengthAdjust="spacingAndGlyphs">x</text>
<text transform="translate(1214.10,66.70) rotate(-90)" x="0" y="0" font-size="24.13" fill="#1f1f1f" textLength="25.65" lengthAdjust="spacingAndGlyphs">10</text>
<text transform="translate(1209.70,41.05) rotate(-90)" x="0" y="0" font-size="12.00" fill="#1f1f1f" textLength="14.88" lengthAdjust="spacingAndGlyphs">14</text>
<text transform="translate(1214.10,26.17) rotate(-90)" x="0" y="0" font-size="24.13" fill="#1f1f1f" textLength="7.67" lengthAdjust="spacingAndGlyphs">)</text>
</g>
<g>
<line x1="1685.20" y1="280.62" x2="1984.20" y2="280.62" stroke="#d9d9d9" stroke-width="1.5"/>
<line x1="1685.20" y1="264.74" x2="1984.20" y2="264.74" stroke="#d9d9d9" stroke-width="1.5"/>
<line x1="1685.20" y1="248.85" x2="1984.20" y2="248.85" stroke="#d9d9d9" stroke-width="1.5"/>
<line x1="1685.20" y1="232.97" x2="1984.20" y2="232.97" stroke="#d9d9d9" stroke-width="1.5"/>
<line x1="1685.20" y1="217.09" x2="1984.20" y2="217.09" stroke="#d9d9d9" stroke-width="1.5"/>
<line x1="1685.20" y1="201.21" x2="1984.20" y2="201.21" stroke="#d9d9d9" stroke-width="1.5"/>
<line x1="1685.20" y1="185.32" x2="1984.20" y2="185.32" stroke="#d9d9d9" stroke-width="1.5"/>
<line x1="1685.20" y1="169.44" x2="1984.20" y2="169.44" stroke="#d9d9d9" stroke-width="1.5"/>
<line x1="1685.20" y1="153.56" x2="1984.20" y2="153.56" stroke="#d9d9d9" stroke-width="1.5"/>
<line x1="1685.20" y1="137.68" x2="1984.20" y2="137.68" stroke="#d9d9d9" stroke-width="1.5"/>
<line x1="1685.20" y1="121.79" x2="1984.20" y2="121.79" stroke="#d9d9d9" stroke-width="1.5"/>
<line x1="1685.20" y1="105.91" x2="1984.20" y2="105.91" stroke="#d9d9d9" stroke-width="1.5"/>
<line x1="1685.20" y1="90.03" x2="1984.20" y2="90.03" stroke="#d9d9d9" stroke-width="1.5"/>
<line x1="1685.20" y1="74.15" x2="1984.20" y2="74.15" stroke="#d9d9d9" stroke-width="1.5"/>
<line x1="1685.20" y1="58.26" x2="1984.20" y2="58.26" stroke="#d9d9d9" stroke-width="1.5"/>
<line x1="1685.20" y1="42.38" x2="1984.20" y2="42.38" stroke="#d9d9d9" stroke-width="1.5"/>
<line x1="1685.20" y1="26.50" x2="1984.20" y2="26.50" stroke="#d9d9d9" stroke-width="1.5"/>
<line x1="1834.70" y1="26.50" x2="1834.70" y2="296.50" stroke="#d9d9d9" stroke-width="1.5"/>
<line x1="1984.20" y1="26.50" x2="1984.20" y2="296.50" stroke="#d9d9d9" stroke-width="1.5"/>
<line x1="1685.20" y1="25.75" x2="1685.20" y2="297.30" stroke="#bfbfbf" stroke-width="1.6"/>
<line x1="1685.20" y1="296.50" x2="1984.95" y2="296.50" stroke="#bfbfbf" stroke-width="1.6"/>
<text x="1656.23" y="302.25" font-size="17.14" fill="#595959" textLength="9.37" lengthAdjust="spacingAndGlyphs">0</text>
<text x="1656.23" y="286.37" font-size="17.14" fill="#595959" textLength="9.37" lengthAdjust="spacingAndGlyphs">2</text>
<text x="1656.23" y="270.49" font-size="17.14" fill="#595959" textLength="9.37" lengthAdjust="spacingAndGlyphs">4</text>
<text x="1656.23" y="254.60" font-size="17.14" fill="#595959" textLength="9.37" lengthAdjust="spacingAndGlyphs">6</text>
<text x="1656.23" y="238.72" font-size="17.14" fill="#595959" textLength="9.37" lengthAdjust="spacingAndGlyphs">8</text>
<text x="1646.86" y="222.84" font-size="17.14" fill="#595959" textLength="18.74" lengthAdjust="spacingAndGlyphs">10</text>
<text x="1646.86" y="206.96" font-size="17.14" fill="#595959" textLength="18.74" lengthAdjust="spacingAndGlyphs">12</text>
<text x="1646.86" y="191.07" font-size="17.14" fill="#595959" textLength="18.74" lengthAdjust="spacingAndGlyphs">14</text>
<text x="1646.86" y="175.19" font-size="17.14" fill="#595959" textLength="18.74" lengthAdjust="spacingAndGlyphs">16</text>
<text x="1646.86" y="159.31" font-size="17.14" fill="#595959" textLength="18.74" lengthAdjust="spacingAndGlyphs">18</text>
<text x="1646.86" y="143.43" font-size="17.14" fill="#595959" textLength="18.74" lengthAdjust="spacingAndGlyphs">20</text>
<text x="1646.86" y="127.54" font-size="17.14" fill="#595959" textLength="18.74" lengthAdjust="spacingAndGlyphs">22</text>
<text x="1646.86" y="111.66" font-size="17.14" fill="#595959" textLength="18.74" lengthAdjust="spacingAndGlyphs">24</text>
<text x="1646.86" y="95.78" font-size="17.14" fill="#595959" textLength="18.74" lengthAdjust="spacingAndGlyphs">26</text>
<text x="1646.86" y="79.90" font-size="17.14" fill="#595959" textLength="18.74" lengthAdjust="spacingAndGlyphs">28</text>
<text x="1646.86" y="64.01" font-size="17.14" fill="#595959" textLength="18.74" lengthAdjust="spacingAndGlyphs">30</text>
<text x="1646.86" y="48.13" font-size="17.14" fill="#595959" textLength="18.74" lengthAdjust="spacingAndGlyphs">32</text>
<text x="1646.86" y="32.25" font-size="17.14" fill="#595959" textLength="18.74" lengthAdjust="spacingAndGlyphs">34</text>
<text x="1680.52" y="329.50" font-size="18.57" fill="#595959" textLength="10.15" lengthAdjust="spacingAndGlyphs">5</text>
<text x="1824.65" y="329.50" font-size="18.57" fill="#595959" textLength="20.31" lengthAdjust="spacingAndGlyphs">50</text>
<text x="1967.97" y="329.50" font-size="18.57" fill="#595959" textLength="30.46" lengthAdjust="spacingAndGlyphs">500</text>
<path d="M1697.57,289.24 C1699.21,289.24 1708.35,289.08 1711.63,289.24 C1714.92,289.41 1722.41,290.36 1725.69,290.65 C1728.97,290.94 1736.88,291.58 1739.75,291.70 C1742.62,291.83 1747.84,291.87 1750.30,291.70 C1752.76,291.54 1758.38,290.38 1760.84,290.30 C1763.30,290.22 1768.93,291.29 1771.39,291.00 C1773.85,290.71 1779.88,289.11 1781.93,287.84 C1783.98,286.57 1787.53,282.24 1788.96,280.11 C1790.40,277.97 1793.01,273.25 1794.24,269.56 C1795.47,265.87 1798.28,254.21 1799.51,248.47 C1800.74,242.73 1803.55,226.91 1804.78,220.35 C1806.01,213.79 1808.82,199.20 1810.05,192.23 C1811.28,185.26 1814.09,168.39 1815.33,160.60 C1816.56,152.81 1819.37,133.65 1820.60,125.45 C1821.83,117.25 1824.64,97.68 1825.87,90.30 C1827.10,82.92 1829.91,67.51 1831.14,62.18 C1832.37,56.85 1835.18,47.80 1836.41,44.60 C1837.64,41.41 1840.46,36.20 1841.69,34.76 C1842.92,33.33 1845.52,32.18 1846.96,32.30 C1848.39,32.43 1852.35,34.18 1853.99,35.82 C1855.63,37.46 1859.38,42.88 1861.02,46.36 C1862.66,49.85 1866.41,60.57 1868.05,65.69 C1869.69,70.82 1873.44,83.74 1875.08,90.30 C1876.72,96.86 1880.47,114.55 1882.11,121.93 C1883.75,129.31 1887.50,146.19 1889.14,153.57 C1890.78,160.95 1894.53,178.23 1896.17,185.20 C1897.81,192.17 1901.56,207.17 1903.20,213.32 C1904.84,219.47 1908.59,232.60 1910.23,237.93 C1911.87,243.26 1915.41,254.50 1917.26,259.02 C1919.10,263.53 1923.79,273.23 1926.05,276.59 C1928.30,279.95 1933.72,285.87 1936.59,287.84 C1939.46,289.81 1946.96,292.60 1950.65,293.46 C1954.34,294.32 1964.33,294.93 1968.22,295.22 C1972.12,295.51 1982.20,295.84 1984.04,295.92" fill="none" stroke="#141414" stroke-width="1.8" stroke-linejoin="round" stroke-linecap="round"/>
<path d="M1697.57,289.95 C1699.21,289.95 1708.35,289.87 1711.63,289.95 C1714.92,290.03 1722.41,290.36 1725.69,290.65 C1728.97,290.94 1736.88,292.28 1739.75,292.41 C1742.62,292.53 1748.25,292.73 1750.30,291.70 C1752.35,290.68 1755.69,286.00 1757.33,283.62 C1758.97,281.24 1762.72,274.60 1764.36,271.32 C1766.00,268.04 1769.75,259.81 1771.39,255.50 C1773.03,251.20 1776.78,239.74 1778.42,234.41 C1780.06,229.08 1783.81,215.55 1785.45,209.81 C1787.09,204.07 1791.04,191.35 1792.48,185.20 C1793.91,179.05 1796.52,164.05 1797.75,157.08 C1798.98,150.11 1801.79,132.42 1803.02,125.45 C1804.25,118.48 1807.07,103.89 1808.30,97.33 C1809.53,90.77 1812.34,74.75 1813.57,69.21 C1814.80,63.67 1817.61,53.36 1818.84,49.88 C1820.07,46.39 1822.88,40.97 1824.11,39.33 C1825.34,37.69 1827.95,35.82 1829.38,35.82 C1830.82,35.82 1834.98,37.49 1836.41,39.33 C1837.85,41.18 1840.25,48.15 1841.69,51.63 C1843.12,55.12 1847.08,64.70 1848.72,69.21 C1850.36,73.72 1854.11,84.97 1855.75,90.30 C1857.39,95.63 1861.14,108.75 1862.78,114.90 C1864.42,121.05 1868.17,136.46 1869.81,143.02 C1871.45,149.58 1875.20,164.58 1876.84,171.14 C1878.48,177.70 1882.23,193.11 1883.87,199.26 C1885.51,205.41 1889.26,218.54 1890.90,223.87 C1892.54,229.20 1896.29,240.45 1897.93,244.96 C1899.57,249.47 1903.11,258.64 1904.96,262.53 C1906.80,266.43 1911.49,275.35 1913.74,278.35 C1916.00,281.34 1921.62,286.47 1924.29,288.19 C1926.95,289.91 1933.10,292.25 1936.59,293.11 C1940.08,293.97 1948.63,295.24 1954.17,295.57 C1959.70,295.90 1980.56,295.88 1984.04,295.92" fill="none" stroke="#1fb35a" stroke-width="1.8" stroke-linejoin="round" stroke-linecap="round"/>
<rect x="1687.90" y="30.50" width="118.80" height="48.20" fill="#fff" stroke="#333" stroke-width="1.8"/>
<line x1="1700.90" y1="42.70" x2="1735.30" y2="42.70" stroke="#111" stroke-width="1.8"/>
<text x="1741.00" y="48.00" font-size="18.90" fill="#4d4d4d" textLength="50.20" lengthAdjust="spacingAndGlyphs">Diesel</text>
<line x1="1700.90" y1="66.10" x2="1735.30" y2="66.10" stroke="#27b35f" stroke-width="1.8"/>
<text x="1740.40" y="72.30" font-size="18.02" fill="#4d4d4d" textLength="59.90" lengthAdjust="spacingAndGlyphs">GEE-30</text>
<text x="1804.20" y="25.10" font-size="22.82" fill="#000" textLength="50.30" lengthAdjust="spacingAndGlyphs">Total</text>
<text x="1754.60" y="354.40" font-size="21.66" fill="#1f1f1f" textLength="74.15" lengthAdjust="spacingAndGlyphs">Particle</text>
<text x="1834.28" y="354.40" font-size="21.66" fill="#1f1f1f" textLength="90.43" lengthAdjust="spacingAndGlyphs">diameter</text>
<text x="1930.25" y="354.40" font-size="21.66" fill="#1f1f1f" textLength="47.25" lengthAdjust="spacingAndGlyphs">(nm)</text>
<text transform="translate(1638.90,291.30) rotate(-90)" x="0" y="0" font-size="24.85" fill="#1f1f1f" textLength="48.67" lengthAdjust="spacingAndGlyphs">Total</text>
<text transform="translate(1638.90,237.00) rotate(-90)" x="0" y="0" font-size="24.85" fill="#1f1f1f" textLength="28.90" lengthAdjust="spacingAndGlyphs">PN</text>
<text transform="translate(1638.90,202.48) rotate(-90)" x="0" y="0" font-size="24.85" fill="#1f1f1f" textLength="19.93" lengthAdjust="spacingAndGlyphs">(#</text>
<text transform="translate(1638.90,176.93) rotate(-90)" x="0" y="0" font-size="24.85" fill="#1f1f1f" textLength="85.83" lengthAdjust="spacingAndGlyphs">particles</text>
<text transform="translate(1638.90,85.47) rotate(-90)" x="0" y="0" font-size="24.85" fill="#1f1f1f" textLength="10.77" lengthAdjust="spacingAndGlyphs">x</text>
<text transform="translate(1638.90,69.08) rotate(-90)" x="0" y="0" font-size="24.85" fill="#1f1f1f" textLength="25.21" lengthAdjust="spacingAndGlyphs">10</text>
<text transform="translate(1629.70,43.87) rotate(-90)" x="0" y="0" font-size="13.43" fill="#1f1f1f" textLength="14.62" lengthAdjust="spacingAndGlyphs">14</text>
<text transform="translate(1638.90,29.24) rotate(-90)" x="0" y="0" font-size="24.85" fill="#1f1f1f" textLength="7.54" lengthAdjust="spacingAndGlyphs">)</text>
</g>
<g>
<line x1="66.80" y1="669.04" x2="377.00" y2="669.04" stroke="#d9d9d9" stroke-width="1.5"/>
<line x1="66.80" y1="612.78" x2="377.00" y2="612.78" stroke="#d9d9d9" stroke-width="1.5"/>
<line x1="66.80" y1="556.52" x2="377.00" y2="556.52" stroke="#d9d9d9" stroke-width="1.5"/>
<line x1="66.80" y1="500.26" x2="377.00" y2="500.26" stroke="#d9d9d9" stroke-width="1.5"/>
<line x1="66.80" y1="444.00" x2="377.00" y2="444.00" stroke="#d9d9d9" stroke-width="1.5"/>
<line x1="221.90" y1="444.00" x2="221.90" y2="725.30" stroke="#d9d9d9" stroke-width="1.5"/>
<line x1="377.00" y1="444.00" x2="377.00" y2="725.30" stroke="#d9d9d9" stroke-width="1.5"/>
<line x1="66.80" y1="443.25" x2="66.80" y2="726.10" stroke="#bfbfbf" stroke-width="1.6"/>
<line x1="66.80" y1="725.30" x2="377.75" y2="725.30" stroke="#bfbfbf" stroke-width="1.6"/>
<text x="38.34" y="731.30" font-size="17.86" fill="#595959" textLength="9.76" lengthAdjust="spacingAndGlyphs">0</text>
<text x="38.34" y="675.04" font-size="17.86" fill="#595959" textLength="9.76" lengthAdjust="spacingAndGlyphs">2</text>
<text x="38.34" y="618.78" font-size="17.86" fill="#595959" textLength="9.76" lengthAdjust="spacingAndGlyphs">4</text>
<text x="38.34" y="562.52" font-size="17.86" fill="#595959" textLength="9.76" lengthAdjust="spacingAndGlyphs">6</text>
<text x="38.34" y="506.26" font-size="17.86" fill="#595959" textLength="9.76" lengthAdjust="spacingAndGlyphs">8</text>
<text x="28.57" y="450.00" font-size="17.86" fill="#595959" textLength="19.53" lengthAdjust="spacingAndGlyphs">10</text>
<text x="64.51" y="760.30" font-size="19.00" fill="#595959" textLength="10.39" lengthAdjust="spacingAndGlyphs">5</text>
<text x="213.21" y="760.30" font-size="19.00" fill="#595959" textLength="20.77" lengthAdjust="spacingAndGlyphs">50</text>
<text x="363.02" y="760.30" font-size="19.00" fill="#595959" textLength="31.16" lengthAdjust="spacingAndGlyphs">500</text>
<path d="M79.57,712.99 C80.71,713.25 87.07,715.38 89.35,715.27 C91.64,715.16 96.86,713.23 99.14,712.01 C101.42,710.79 106.64,705.75 108.92,704.83 C111.21,703.92 116.43,703.61 118.71,704.18 C120.99,704.75 126.21,709.04 128.49,709.73 C130.78,710.41 135.99,710.24 138.28,710.05 C140.56,709.86 145.78,708.32 148.06,708.10 C150.35,707.87 155.56,708.02 157.85,708.10 C160.13,708.17 165.73,709.43 167.63,708.75 C169.53,708.06 172.63,704.20 174.16,702.22 C175.68,700.25 179.16,694.91 180.68,691.79 C182.20,688.67 185.68,679.47 187.20,675.48 C188.72,671.48 192.20,662.11 193.72,657.54 C195.25,652.97 198.73,641.10 200.25,636.34 C201.77,631.58 205.25,621.15 206.77,616.77 C208.29,612.40 211.77,603.02 213.29,598.83 C214.82,594.65 218.30,584.51 219.82,580.89 C221.34,577.28 224.82,570.32 226.34,567.85 C227.86,565.37 231.34,561.22 232.86,559.69 C234.39,558.17 237.94,555.56 239.39,554.80 C240.83,554.04 243.93,552.60 245.26,553.17 C246.59,553.74 249.39,557.60 250.80,559.69 C252.21,561.79 255.80,567.49 257.33,571.11 C258.85,574.72 262.33,585.73 263.85,590.68 C265.37,595.63 268.85,608.18 270.37,613.51 C271.89,618.84 275.37,631.01 276.89,636.34 C278.42,641.67 281.90,654.22 283.42,659.17 C284.94,664.12 288.42,674.56 289.94,678.74 C291.46,682.93 294.75,691.62 296.46,695.05 C298.18,698.47 302.53,705.62 304.62,708.10 C306.71,710.57 311.74,714.73 314.40,716.25 C317.07,717.77 324.02,720.27 327.45,721.14 C330.87,722.02 338.05,723.29 343.76,723.75 C349.47,724.21 372.57,724.90 376.37,725.06" fill="none" stroke="#1fb35a" stroke-width="1.6" stroke-linejoin="round" stroke-linecap="round"/>
<path d="M79.57,718.53 C80.71,718.46 87.07,718.26 89.35,717.88 C91.64,717.50 96.86,715.84 99.14,715.27 C101.42,714.70 106.64,713.25 108.92,712.99 C111.21,712.72 116.43,712.53 118.71,712.99 C120.99,713.44 126.21,716.44 128.49,716.90 C130.78,717.36 135.99,717.24 138.28,716.90 C140.56,716.56 145.78,714.31 148.06,713.97 C150.35,713.62 155.56,713.89 157.85,713.97 C160.13,714.04 165.73,715.30 167.63,714.62 C169.53,713.93 172.63,710.00 174.16,708.10 C175.68,706.19 179.16,701.35 180.68,698.31 C182.20,695.27 185.68,686.19 187.20,682.00 C188.72,677.82 192.20,667.38 193.72,662.43 C195.25,657.49 198.73,645.31 200.25,639.60 C201.77,633.89 205.25,619.60 206.77,613.51 C208.29,607.42 211.77,593.51 213.29,587.42 C214.82,581.33 218.30,567.03 219.82,561.32 C221.34,555.62 224.82,543.06 226.34,538.49 C227.86,533.93 231.34,525.99 232.86,522.19 C234.39,518.38 237.86,509.49 239.39,505.88 C240.91,502.26 244.12,492.72 245.91,491.20 C247.70,489.68 253.00,490.74 254.72,492.83 C256.43,494.92 259.14,504.95 260.59,509.14 C262.03,513.32 265.59,523.38 267.11,528.71 C268.63,534.04 272.11,548.33 273.63,554.80 C275.16,561.27 278.63,577.31 280.16,584.16 C281.68,591.00 285.16,606.66 286.68,613.51 C288.20,620.36 291.68,636.39 293.20,642.86 C294.72,649.33 298.20,663.63 299.73,668.96 C301.25,674.28 304.54,684.34 306.25,688.53 C307.96,692.71 312.31,701.71 314.40,704.83 C316.50,707.95 321.52,713.37 324.19,715.27 C326.85,717.17 333.81,720.15 337.23,721.14 C340.66,722.13 348.98,723.29 353.54,723.75 C358.11,724.21 373.71,724.90 376.37,725.06" fill="none" stroke="#141414" stroke-width="1.7" stroke-linejoin="round" stroke-linecap="round"/>
<rect x="74.50" y="453.80" width="118.90" height="61.70" fill="#fff" stroke="#111" stroke-width="1.8"/>
<line x1="86.40" y1="469.00" x2="120.50" y2="469.00" stroke="#7dd3a0" stroke-width="3.3"/>
<text x="125.50" y="474.60" font-size="18.46" fill="#4d4d4d" textLength="63.30" lengthAdjust="spacingAndGlyphs">GEE-30</text>
<line x1="86.40" y1="500.20" x2="120.50" y2="500.20" stroke="#333" stroke-width="2.2"/>
<text x="125.80" y="506.70" font-size="18.17" fill="#4d4d4d" textLength="52.40" lengthAdjust="spacingAndGlyphs">Diesel</text>
<text x="163.90" y="436.90" font-size="22.97" fill="#595959" textLength="61.28" lengthAdjust="spacingAndGlyphs">Urban</text>
<text x="230.68" y="436.90" font-size="22.97" fill="#595959" textLength="12.32" lengthAdjust="spacingAndGlyphs">1</text>
<text x="116.80" y="787.20" font-size="22.24" fill="#1f1f1f" textLength="75.38" lengthAdjust="spacingAndGlyphs">Particle</text>
<text x="197.80" y="787.20" font-size="22.24" fill="#1f1f1f" textLength="91.94" lengthAdjust="spacingAndGlyphs">diameter</text>
<text x="295.36" y="787.20" font-size="22.24" fill="#1f1f1f" textLength="48.04" lengthAdjust="spacingAndGlyphs">(nm)</text>
<text transform="translate(27.30,731.90) rotate(-90)" x="0" y="0" font-size="24.71" fill="#1f1f1f" textLength="49.79" lengthAdjust="spacingAndGlyphs">Total</text>
<text transform="translate(27.30,676.35) rotate(-90)" x="0" y="0" font-size="24.71" fill="#1f1f1f" textLength="29.56" lengthAdjust="spacingAndGlyphs">PN</text>
<text transform="translate(27.30,641.04) rotate(-90)" x="0" y="0" font-size="24.71" fill="#1f1f1f" textLength="20.39" lengthAdjust="spacingAndGlyphs">(#</text>
<text transform="translate(27.30,614.90) rotate(-90)" x="0" y="0" font-size="24.71" fill="#1f1f1f" textLength="87.81" lengthAdjust="spacingAndGlyphs">particles</text>
<text transform="translate(27.30,521.34) rotate(-90)" x="0" y="0" font-size="24.71" fill="#1f1f1f" textLength="11.02" lengthAdjust="spacingAndGlyphs">x</text>
<text transform="translate(27.30,504.57) rotate(-90)" x="0" y="0" font-size="24.71" fill="#1f1f1f" textLength="25.79" lengthAdjust="spacingAndGlyphs">10</text>
<text transform="translate(19.00,478.78) rotate(-90)" x="0" y="0" font-size="12.86" fill="#1f1f1f" textLength="14.96" lengthAdjust="spacingAndGlyphs">14</text>
<text transform="translate(27.30,463.82) rotate(-90)" x="0" y="0" font-size="24.71" fill="#1f1f1f" textLength="7.72" lengthAdjust="spacingAndGlyphs">)</text>
</g>
<g>
<line x1="490.60" y1="695.86" x2="782.00" y2="695.86" stroke="#d9d9d9" stroke-width="1.5"/>
<line x1="490.60" y1="654.21" x2="782.00" y2="654.21" stroke="#d9d9d9" stroke-width="1.5"/>
<line x1="490.60" y1="612.57" x2="782.00" y2="612.57" stroke="#d9d9d9" stroke-width="1.5"/>
<line x1="490.60" y1="570.93" x2="782.00" y2="570.93" stroke="#d9d9d9" stroke-width="1.5"/>
<line x1="490.60" y1="529.29" x2="782.00" y2="529.29" stroke="#d9d9d9" stroke-width="1.5"/>
<line x1="490.60" y1="487.64" x2="782.00" y2="487.64" stroke="#d9d9d9" stroke-width="1.5"/>
<line x1="490.60" y1="446.00" x2="782.00" y2="446.00" stroke="#d9d9d9" stroke-width="1.5"/>
<line x1="636.30" y1="446.00" x2="636.30" y2="737.50" stroke="#d9d9d9" stroke-width="1.5"/>
<line x1="782.00" y1="446.00" x2="782.00" y2="737.50" stroke="#d9d9d9" stroke-width="1.5"/>
<line x1="490.60" y1="445.25" x2="490.60" y2="738.30" stroke="#bfbfbf" stroke-width="1.6"/>
<line x1="490.60" y1="737.50" x2="782.75" y2="737.50" stroke="#bfbfbf" stroke-width="1.6"/>
<text x="461.37" y="743.35" font-size="17.43" fill="#595959" textLength="9.53" lengthAdjust="spacingAndGlyphs">0</text>
<text x="461.37" y="701.71" font-size="17.43" fill="#595959" textLength="9.53" lengthAdjust="spacingAndGlyphs">1</text>
<text x="461.37" y="660.06" font-size="17.43" fill="#595959" textLength="9.53" lengthAdjust="spacingAndGlyphs">2</text>
<text x="461.37" y="618.42" font-size="17.43" fill="#595959" textLength="9.53" lengthAdjust="spacingAndGlyphs">3</text>
<text x="461.37" y="576.78" font-size="17.43" fill="#595959" textLength="9.53" lengthAdjust="spacingAndGlyphs">4</text>
<text x="461.37" y="535.14" font-size="17.43" fill="#595959" textLength="9.53" lengthAdjust="spacingAndGlyphs">5</text>
<text x="461.37" y="493.49" font-size="17.43" fill="#595959" textLength="9.53" lengthAdjust="spacingAndGlyphs">6</text>
<text x="461.37" y="451.85" font-size="17.43" fill="#595959" textLength="9.53" lengthAdjust="spacingAndGlyphs">7</text>
<text x="485.44" y="771.70" font-size="18.14" fill="#595959" textLength="9.92" lengthAdjust="spacingAndGlyphs">5</text>
<text x="626.68" y="771.70" font-size="18.14" fill="#595959" textLength="19.84" lengthAdjust="spacingAndGlyphs">50</text>
<text x="767.02" y="771.70" font-size="18.14" fill="#595959" textLength="29.76" lengthAdjust="spacingAndGlyphs">500</text>
<path d="M501.63,723.43 C502.21,723.94 505.06,726.98 506.62,727.76 C508.17,728.53 513.18,730.08 514.93,730.08 C516.68,730.08 519.64,728.61 521.58,727.76 C523.52,726.90 529.42,723.62 531.56,722.77 C533.69,721.91 537.93,720.32 539.87,720.44 C541.81,720.56 546.05,723.57 548.19,723.76 C550.32,723.96 555.83,722.80 558.16,722.10 C560.49,721.40 565.81,718.48 568.14,717.78 C570.47,717.08 576.18,716.39 578.12,716.12 C580.06,715.84 583.22,716.42 584.77,715.45 C586.32,714.48 589.87,710.25 591.42,707.80 C592.97,705.36 596.52,697.80 598.07,694.50 C599.62,691.20 603.17,682.83 604.72,679.53 C606.27,676.24 609.82,669.34 611.37,666.23 C612.92,663.13 616.47,656.03 618.02,652.93 C619.57,649.83 623.12,642.73 624.67,639.63 C626.23,636.52 629.77,629.24 631.33,626.33 C632.88,623.42 636.42,617.09 637.98,614.69 C639.53,612.28 643.08,607.26 644.63,605.71 C646.18,604.15 649.92,601.77 651.28,601.38 C652.64,601.00 654.91,601.41 656.27,602.38 C657.62,603.35 661.37,607.29 662.92,609.70 C664.47,612.10 668.02,619.51 669.57,623.00 C671.12,626.49 674.67,635.36 676.22,639.63 C677.77,643.90 681.32,654.93 682.87,659.58 C684.42,664.24 687.78,674.88 689.52,679.53 C691.27,684.19 695.90,695.41 697.84,699.49 C699.78,703.56 704.02,711.35 706.15,714.45 C708.28,717.56 713.80,724.04 716.13,726.09 C718.46,728.15 723.58,731.03 726.10,732.08 C728.63,733.13 734.06,734.53 737.74,735.07 C741.43,735.61 752.65,736.50 757.70,736.73 C762.74,736.97 778.26,737.03 780.98,737.07" fill="none" stroke="#1fb35a" stroke-width="1.6" stroke-linejoin="round" stroke-linecap="round"/>
<path d="M501.63,730.08 C502.79,730.01 509.28,729.88 511.60,729.42 C513.93,728.95 519.25,726.87 521.58,726.09 C523.91,725.32 529.42,723.15 531.56,722.77 C533.69,722.38 537.93,722.30 539.87,722.77 C541.81,723.23 546.05,726.45 548.19,726.76 C550.32,727.07 555.83,726.09 558.16,725.43 C560.49,724.77 565.81,721.88 568.14,721.10 C570.47,720.33 576.18,718.97 578.12,718.78 C580.06,718.58 583.22,720.33 584.77,719.44 C586.32,718.55 589.87,713.84 591.42,711.13 C592.97,708.41 596.52,700.62 598.07,696.16 C599.62,691.70 603.17,678.70 604.72,672.88 C606.27,667.06 609.82,652.87 611.37,646.28 C612.92,639.68 616.47,622.94 618.02,616.35 C619.57,609.75 623.12,595.56 624.67,589.74 C626.23,583.92 629.77,571.90 631.33,566.46 C632.88,561.03 636.42,548.23 637.98,543.19 C639.53,538.14 643.08,527.50 644.63,523.23 C646.18,518.96 649.80,510.02 651.28,506.60 C652.75,503.19 655.52,494.43 657.26,493.97 C659.01,493.50 664.42,499.20 666.24,502.61 C668.07,506.03 671.34,517.72 672.89,523.23 C674.45,528.74 677.99,543.24 679.55,549.84 C681.10,556.43 684.65,572.40 686.20,579.77 C687.75,587.14 691.30,605.65 692.85,613.02 C694.40,620.39 697.95,636.36 699.50,642.95 C701.05,649.55 704.40,663.74 706.15,669.56 C707.90,675.38 712.52,687.79 714.46,692.84 C716.40,697.88 720.84,708.83 722.78,712.79 C724.72,716.75 728.96,724.35 731.09,726.76 C733.23,729.16 737.97,732.32 741.07,733.41 C744.17,734.50 753.04,735.64 757.70,736.07 C762.35,736.50 778.26,736.95 780.98,737.07" fill="none" stroke="#141414" stroke-width="1.7" stroke-linejoin="round" stroke-linecap="round"/>
<rect x="492.30" y="461.70" width="126.30" height="59.60" fill="#fff" stroke="#333" stroke-width="2"/>
<line x1="506.70" y1="477.50" x2="543.10" y2="477.50" stroke="#3cbf70" stroke-width="2.2"/>
<text x="548.70" y="484.20" font-size="18.17" fill="#4d4d4d" textLength="60.20" lengthAdjust="spacingAndGlyphs">GEE-30</text>
<line x1="506.70" y1="508.20" x2="543.10" y2="508.20" stroke="#111" stroke-width="1.8"/>
<text x="549.30" y="514.50" font-size="17.73" fill="#4d4d4d" textLength="49.90" lengthAdjust="spacingAndGlyphs">Diesel</text>
<text x="579.60" y="437.50" font-size="23.55" fill="#595959" textLength="52.90" lengthAdjust="spacingAndGlyphs">Rural</text>
<text x="525.00" y="791.40" font-size="22.24" fill="#1f1f1f" textLength="76.21" lengthAdjust="spacingAndGlyphs">Particle</text>
<text x="606.89" y="791.40" font-size="22.24" fill="#1f1f1f" textLength="92.95" lengthAdjust="spacingAndGlyphs">diameter</text>
<text x="705.53" y="791.40" font-size="22.24" fill="#1f1f1f" textLength="48.57" lengthAdjust="spacingAndGlyphs">(nm)</text>
<text transform="translate(437.60,733.90) rotate(-90)" x="0" y="0" font-size="24.42" fill="#1f1f1f" textLength="49.85" lengthAdjust="spacingAndGlyphs">Total</text>
<text transform="translate(437.60,678.29) rotate(-90)" x="0" y="0" font-size="24.42" fill="#1f1f1f" textLength="29.60" lengthAdjust="spacingAndGlyphs">PN</text>
<text transform="translate(437.60,642.94) rotate(-90)" x="0" y="0" font-size="24.42" fill="#1f1f1f" textLength="20.41" lengthAdjust="spacingAndGlyphs">(#</text>
<text transform="translate(437.60,616.77) rotate(-90)" x="0" y="0" font-size="24.42" fill="#1f1f1f" textLength="87.90" lengthAdjust="spacingAndGlyphs">particles</text>
<text transform="translate(437.60,523.11) rotate(-90)" x="0" y="0" font-size="24.42" fill="#1f1f1f" textLength="11.03" lengthAdjust="spacingAndGlyphs">x</text>
<text transform="translate(437.60,506.32) rotate(-90)" x="0" y="0" font-size="24.42" fill="#1f1f1f" textLength="25.82" lengthAdjust="spacingAndGlyphs">10</text>
<text transform="translate(432.40,480.50) rotate(-90)" x="0" y="0" font-size="12.14" fill="#1f1f1f" textLength="14.98" lengthAdjust="spacingAndGlyphs">14</text>
<text transform="translate(437.60,465.52) rotate(-90)" x="0" y="0" font-size="24.42" fill="#1f1f1f" textLength="7.72" lengthAdjust="spacingAndGlyphs">)</text>
</g>
<g>
<line x1="893.50" y1="683.47" x2="1177.80" y2="683.47" stroke="#d9d9d9" stroke-width="1.5"/>
<line x1="893.50" y1="634.43" x2="1177.80" y2="634.43" stroke="#d9d9d9" stroke-width="1.5"/>
<line x1="893.50" y1="585.40" x2="1177.80" y2="585.40" stroke="#d9d9d9" stroke-width="1.5"/>
<line x1="893.50" y1="536.37" x2="1177.80" y2="536.37" stroke="#d9d9d9" stroke-width="1.5"/>
<line x1="893.50" y1="487.33" x2="1177.80" y2="487.33" stroke="#d9d9d9" stroke-width="1.5"/>
<line x1="893.50" y1="438.30" x2="1177.80" y2="438.30" stroke="#d9d9d9" stroke-width="1.5"/>
<line x1="1035.65" y1="438.30" x2="1035.65" y2="732.50" stroke="#d9d9d9" stroke-width="1.5"/>
<line x1="1177.80" y1="438.30" x2="1177.80" y2="732.50" stroke="#d9d9d9" stroke-width="1.5"/>
<line x1="893.50" y1="437.55" x2="893.50" y2="733.30" stroke="#bfbfbf" stroke-width="1.6"/>
<line x1="893.50" y1="732.50" x2="1178.55" y2="732.50" stroke="#bfbfbf" stroke-width="1.6"/>
<text x="861.85" y="739.45" font-size="20.57" fill="#595959" textLength="11.25" lengthAdjust="spacingAndGlyphs">0</text>
<text x="850.61" y="690.42" font-size="20.57" fill="#595959" textLength="22.49" lengthAdjust="spacingAndGlyphs">20</text>
<text x="850.61" y="641.38" font-size="20.57" fill="#595959" textLength="22.49" lengthAdjust="spacingAndGlyphs">40</text>
<text x="850.61" y="592.35" font-size="20.57" fill="#595959" textLength="22.49" lengthAdjust="spacingAndGlyphs">60</text>
<text x="850.61" y="543.32" font-size="20.57" fill="#595959" textLength="22.49" lengthAdjust="spacingAndGlyphs">80</text>
<text x="839.36" y="494.28" font-size="20.57" fill="#595959" textLength="33.74" lengthAdjust="spacingAndGlyphs">100</text>
<text x="839.36" y="445.25" font-size="20.57" fill="#595959" textLength="33.74" lengthAdjust="spacingAndGlyphs">120</text>
<text x="889.34" y="767.90" font-size="20.71" fill="#595959" textLength="11.32" lengthAdjust="spacingAndGlyphs">5</text>
<text x="1024.58" y="767.90" font-size="20.71" fill="#595959" textLength="22.65" lengthAdjust="spacingAndGlyphs">50</text>
<text x="1161.61" y="767.90" font-size="20.71" fill="#595959" textLength="33.97" lengthAdjust="spacingAndGlyphs">500</text>
<path d="M904.55,725.37 C906.25,725.50 915.71,726.51 919.10,726.46 C922.50,726.42 930.26,725.01 933.65,725.01 C937.05,725.01 945.23,726.38 948.20,726.46 C951.17,726.55 956.78,726.33 959.12,725.74 C961.45,725.14 966.09,721.97 968.21,721.37 C970.33,720.78 975.31,720.73 977.30,720.64 C979.30,720.56 983.40,721.87 985.31,720.64 C987.22,719.41 991.64,713.24 993.67,710.09 C995.71,706.95 1000.65,697.76 1002.77,693.72 C1004.89,689.69 1009.74,679.78 1011.86,675.54 C1013.98,671.29 1018.83,661.17 1020.96,657.35 C1023.08,653.53 1027.93,645.77 1030.05,642.80 C1032.17,639.83 1037.24,633.16 1039.15,631.88 C1041.05,630.61 1044.51,631.46 1046.42,631.88 C1048.33,632.31 1053.39,634.04 1055.51,635.52 C1057.64,637.01 1062.49,641.86 1064.61,644.62 C1066.73,647.37 1071.58,655.56 1073.70,659.17 C1075.83,662.77 1080.68,671.93 1082.80,675.54 C1084.92,679.14 1089.77,686.90 1091.89,690.09 C1094.01,693.27 1098.86,700.06 1100.99,702.82 C1103.11,705.58 1107.75,711.48 1110.08,713.73 C1112.41,715.98 1118.45,720.49 1120.99,722.10 C1123.54,723.71 1129.15,726.54 1131.91,727.56 C1134.66,728.57 1139.33,730.24 1144.64,730.83 C1149.94,731.42 1173.56,732.44 1177.38,732.65" fill="none" stroke="#1fb35a" stroke-width="1.6" stroke-linejoin="round" stroke-linecap="round"/>
<path d="M904.55,718.10 C906.67,718.10 919.34,718.39 922.74,718.10 C926.13,717.80 931.11,715.55 933.65,715.55 C936.20,715.55 942.66,717.46 944.57,718.10 C946.48,718.73 948.32,720.88 950.02,721.01 C951.72,721.13 957.21,720.25 959.12,719.19 C961.03,718.13 964.69,713.27 966.39,711.91 C968.09,710.56 971.97,707.89 973.67,707.55 C975.36,707.21 979.46,708.83 980.94,709.00 C982.43,709.17 984.70,710.36 986.40,709.00 C988.10,707.65 993.58,701.27 995.49,697.36 C997.40,693.46 1001.07,682.33 1002.77,675.54 C1004.47,668.75 1008.35,647.65 1010.04,639.16 C1011.74,630.67 1015.62,611.27 1017.32,602.78 C1019.02,594.29 1022.90,575.74 1024.59,566.41 C1026.29,557.07 1030.38,531.67 1031.87,522.75 C1033.36,513.84 1036.05,495.32 1037.33,490.01 C1038.60,484.71 1041.30,479.74 1042.78,477.28 C1044.27,474.82 1048.36,469.64 1050.06,468.92 C1051.76,468.19 1055.42,468.21 1057.33,471.10 C1059.24,473.98 1064.31,487.20 1066.43,493.65 C1068.55,500.10 1073.40,518.33 1075.52,526.39 C1077.64,534.45 1082.49,554.28 1084.62,562.77 C1086.74,571.26 1091.59,590.66 1093.71,599.15 C1095.83,607.63 1100.68,627.03 1102.80,635.52 C1104.93,644.01 1109.78,664.26 1111.90,671.90 C1114.02,679.54 1118.87,695.48 1120.99,701.00 C1123.12,706.52 1127.75,716.05 1130.09,719.19 C1132.42,722.33 1138.03,726.52 1141.00,727.92 C1143.97,729.32 1151.31,730.64 1155.55,731.19 C1159.80,731.74 1174.83,732.48 1177.38,732.65" fill="none" stroke="#141414" stroke-width="1.7" stroke-linejoin="round" stroke-linecap="round"/>
<rect x="900.30" y="449.90" width="126.60" height="61.80" fill="#fff" stroke="#333" stroke-width="2"/>
<line x1="914.30" y1="466.30" x2="951.10" y2="466.30" stroke="#00b050" stroke-width="1.6"/>
<text x="957.60" y="473.00" font-size="19.62" fill="#4d4d4d" textLength="62.50" lengthAdjust="spacingAndGlyphs">GEE-30</text>
<line x1="914.30" y1="497.10" x2="951.10" y2="497.10" stroke="#111" stroke-width="1.8"/>
<text x="958.00" y="503.20" font-size="19.77" fill="#4d4d4d" textLength="53.00" lengthAdjust="spacingAndGlyphs">Diesel</text>
<text x="953.80" y="428.20" font-size="24.85" fill="#595959" textLength="110.20" lengthAdjust="spacingAndGlyphs">Motorway</text>
<text x="910.00" y="791.20" font-size="24.27" fill="#1f1f1f" textLength="78.47" lengthAdjust="spacingAndGlyphs">Particle</text>
<text x="994.33" y="791.20" font-size="24.27" fill="#1f1f1f" textLength="95.71" lengthAdjust="spacingAndGlyphs">diameter</text>
<text x="1095.89" y="791.20" font-size="24.27" fill="#1f1f1f" textLength="50.01" lengthAdjust="spacingAndGlyphs">(nm)</text>
<text transform="translate(844.30,743.40) rotate(-90)" x="0" y="0" font-size="25.44" fill="#1f1f1f" textLength="51.26" lengthAdjust="spacingAndGlyphs">Total</text>
<text transform="translate(844.30,686.22) rotate(-90)" x="0" y="0" font-size="25.44" fill="#1f1f1f" textLength="30.43" lengthAdjust="spacingAndGlyphs">PN</text>
<text transform="translate(844.30,649.87) rotate(-90)" x="0" y="0" font-size="25.44" fill="#1f1f1f" textLength="20.99" lengthAdjust="spacingAndGlyphs">(#</text>
<text transform="translate(844.30,622.96) rotate(-90)" x="0" y="0" font-size="25.44" fill="#1f1f1f" textLength="90.38" lengthAdjust="spacingAndGlyphs">particles</text>
<text transform="translate(844.30,526.65) rotate(-90)" x="0" y="0" font-size="25.44" fill="#1f1f1f" textLength="11.34" lengthAdjust="spacingAndGlyphs">x</text>
<text transform="translate(844.30,509.39) rotate(-90)" x="0" y="0" font-size="25.44" fill="#1f1f1f" textLength="26.55" lengthAdjust="spacingAndGlyphs">10</text>
<text transform="translate(836.40,482.84) rotate(-90)" x="0" y="0" font-size="18.43" fill="#1f1f1f" textLength="15.40" lengthAdjust="spacingAndGlyphs">14</text>
<text transform="translate(844.30,467.44) rotate(-90)" x="0" y="0" font-size="25.44" fill="#1f1f1f" textLength="7.94" lengthAdjust="spacingAndGlyphs">)</text>
</g>
<g>
<line x1="1298.80" y1="673.48" x2="1580.00" y2="673.48" stroke="#d9d9d9" stroke-width="1.5"/>
<line x1="1298.80" y1="615.66" x2="1580.00" y2="615.66" stroke="#d9d9d9" stroke-width="1.5"/>
<line x1="1298.80" y1="557.84" x2="1580.00" y2="557.84" stroke="#d9d9d9" stroke-width="1.5"/>
<line x1="1298.80" y1="500.02" x2="1580.00" y2="500.02" stroke="#d9d9d9" stroke-width="1.5"/>
<line x1="1298.80" y1="442.20" x2="1580.00" y2="442.20" stroke="#d9d9d9" stroke-width="1.5"/>
<line x1="1439.40" y1="442.20" x2="1439.40" y2="731.30" stroke="#d9d9d9" stroke-width="1.5"/>
<line x1="1580.00" y1="442.20" x2="1580.00" y2="731.30" stroke="#d9d9d9" stroke-width="1.5"/>
<line x1="1298.80" y1="441.45" x2="1298.80" y2="732.10" stroke="#bfbfbf" stroke-width="1.6"/>
<line x1="1298.80" y1="731.30" x2="1580.75" y2="731.30" stroke="#bfbfbf" stroke-width="1.6"/>
<text x="1269.07" y="737.15" font-size="17.43" fill="#595959" textLength="9.53" lengthAdjust="spacingAndGlyphs">0</text>
<text x="1254.80" y="679.33" font-size="17.43" fill="#595959" textLength="23.80" lengthAdjust="spacingAndGlyphs">0.2</text>
<text x="1254.80" y="621.51" font-size="17.43" fill="#595959" textLength="23.80" lengthAdjust="spacingAndGlyphs">0.4</text>
<text x="1254.80" y="563.69" font-size="17.43" fill="#595959" textLength="23.80" lengthAdjust="spacingAndGlyphs">0.6</text>
<text x="1254.80" y="505.87" font-size="17.43" fill="#595959" textLength="23.80" lengthAdjust="spacingAndGlyphs">0.8</text>
<text x="1269.07" y="448.05" font-size="17.43" fill="#595959" textLength="9.53" lengthAdjust="spacingAndGlyphs">1</text>
<text x="1293.41" y="765.80" font-size="19.00" fill="#595959" textLength="10.39" lengthAdjust="spacingAndGlyphs">5</text>
<text x="1430.11" y="765.80" font-size="19.00" fill="#595959" textLength="20.77" lengthAdjust="spacingAndGlyphs">50</text>
<text x="1565.62" y="765.80" font-size="19.00" fill="#595959" textLength="31.16" lengthAdjust="spacingAndGlyphs">500</text>
<path d="M1309.56,709.46 C1310.19,710.40 1313.32,716.11 1315.01,717.47 C1316.71,718.83 1322.20,720.81 1324.11,721.11 C1326.02,721.40 1329.69,720.40 1331.39,720.01 C1333.09,719.63 1336.97,718.00 1338.67,717.83 C1340.37,717.66 1344.04,718.13 1345.95,718.56 C1347.86,718.98 1353.13,721.30 1355.04,721.47 C1356.95,721.64 1360.41,720.48 1362.32,720.01 C1364.23,719.55 1369.30,717.98 1371.42,717.47 C1373.54,716.96 1378.39,716.07 1380.52,715.65 C1382.64,715.22 1387.70,714.68 1389.61,713.83 C1391.52,712.98 1395.19,710.28 1396.89,708.37 C1398.59,706.46 1402.47,700.85 1404.17,697.45 C1405.87,694.06 1409.75,683.93 1411.45,679.26 C1413.15,674.59 1417.03,662.31 1418.73,657.42 C1420.42,652.54 1424.31,642.08 1426.00,637.41 C1427.70,632.74 1431.58,621.85 1433.28,617.39 C1434.98,612.94 1438.86,603.02 1440.56,599.20 C1442.26,595.38 1446.14,588.04 1447.84,584.64 C1449.54,581.25 1453.63,573.06 1455.12,570.09 C1456.60,567.12 1459.00,560.87 1460.57,559.17 C1462.15,557.47 1466.88,555.32 1468.58,555.53 C1470.28,555.74 1473.52,558.87 1475.13,560.99 C1476.74,563.11 1480.71,569.69 1482.41,573.73 C1484.11,577.76 1487.99,590.04 1489.69,595.56 C1491.39,601.08 1495.27,615.09 1496.97,621.03 C1498.66,626.98 1502.54,640.99 1504.24,646.51 C1505.94,652.03 1509.82,663.46 1511.52,668.34 C1513.22,673.22 1516.89,683.69 1518.80,688.36 C1520.71,693.03 1525.56,704.34 1527.90,708.37 C1530.23,712.40 1536.05,720.46 1538.81,722.93 C1541.57,725.39 1548.58,728.54 1551.55,729.48 C1554.52,730.41 1560.68,730.72 1564.29,730.93 C1567.90,731.14 1580.36,731.25 1582.48,731.30" fill="none" stroke="#1fb35a" stroke-width="1.6" stroke-linejoin="round" stroke-linecap="round"/>
<path d="M1309.56,712.01 C1310.83,712.09 1318.14,712.65 1320.47,712.74 C1322.81,712.82 1327.66,712.91 1329.57,712.74 C1331.48,712.57 1334.94,711.28 1336.85,711.28 C1338.76,711.28 1343.82,711.80 1345.95,712.74 C1348.07,713.67 1353.13,718.61 1355.04,719.29 C1356.95,719.97 1360.62,719.20 1362.32,718.56 C1364.02,717.92 1367.69,715.10 1369.60,713.83 C1371.51,712.55 1376.36,708.87 1378.70,707.64 C1381.03,706.41 1387.28,704.89 1389.61,703.28 C1391.95,701.66 1396.80,697.04 1398.71,693.81 C1400.62,690.59 1404.29,680.29 1405.99,675.62 C1407.69,670.95 1411.57,658.88 1413.27,653.78 C1414.97,648.69 1419.06,637.05 1420.55,631.95 C1422.03,626.86 1424.52,615.21 1426.00,610.12 C1427.49,605.02 1431.58,593.38 1433.28,588.28 C1434.98,583.19 1438.86,571.54 1440.56,566.45 C1442.26,561.35 1446.35,549.28 1447.84,544.61 C1449.32,539.94 1452.24,530.66 1453.30,526.42 C1454.36,522.17 1456.09,512.47 1456.94,508.22 C1457.79,503.98 1459.51,493.43 1460.57,490.03 C1461.64,486.63 1464.76,481.45 1466.03,479.11 C1467.31,476.78 1470.22,471.20 1471.49,470.01 C1472.77,468.83 1475.89,468.29 1476.95,468.92 C1478.01,469.56 1479.53,472.80 1480.59,475.47 C1481.65,478.15 1484.77,487.18 1486.05,491.85 C1487.32,496.52 1490.02,508.92 1491.51,515.50 C1492.99,522.08 1497.09,540.19 1498.78,548.25 C1500.48,556.32 1504.36,576.15 1506.06,584.64 C1507.76,593.13 1511.64,612.97 1513.34,621.03 C1515.04,629.10 1518.92,646.57 1520.62,653.78 C1522.32,661.00 1526.20,676.95 1527.90,682.90 C1529.59,688.84 1533.26,700.27 1535.17,704.73 C1537.09,709.19 1541.94,718.22 1544.27,721.11 C1546.61,723.99 1552.43,728.33 1555.19,729.48 C1557.95,730.62 1564.74,730.72 1567.93,730.93 C1571.11,731.14 1580.78,731.25 1582.48,731.30" fill="none" stroke="#141414" stroke-width="1.7" stroke-linejoin="round" stroke-linecap="round"/>
<rect x="1302.20" y="457.10" width="117.40" height="59.60" fill="#fff" stroke="#111" stroke-width="1.8"/>
<line x1="1312.70" y1="472.20" x2="1348.40" y2="472.20" stroke="#00b050" stroke-width="1.6"/>
<text x="1353.10" y="478.10" font-size="17.73" fill="#4d4d4d" textLength="60.80" lengthAdjust="spacingAndGlyphs">GEE-30</text>
<line x1="1312.70" y1="502.00" x2="1348.40" y2="502.00" stroke="#333" stroke-width="2.2"/>
<text x="1354.00" y="508.20" font-size="17.73" fill="#4d4d4d" textLength="50.20" lengthAdjust="spacingAndGlyphs">Diesel</text>
<text x="1365.30" y="433.20" font-size="24.56" fill="#595959" textLength="60.97" lengthAdjust="spacingAndGlyphs">Urban</text>
<text x="1431.74" y="433.20" font-size="24.56" fill="#595959" textLength="12.26" lengthAdjust="spacingAndGlyphs">2</text>
<text x="1314.00" y="789.20" font-size="25.15" fill="#1f1f1f" textLength="76.14" lengthAdjust="spacingAndGlyphs">Particle</text>
<text x="1395.82" y="789.20" font-size="25.15" fill="#1f1f1f" textLength="92.87" lengthAdjust="spacingAndGlyphs">diameter</text>
<text x="1494.37" y="789.20" font-size="25.15" fill="#1f1f1f" textLength="48.53" lengthAdjust="spacingAndGlyphs">(nm)</text>
<text transform="translate(1240.10,731.40) rotate(-90)" x="0" y="0" font-size="23.69" fill="#1f1f1f" textLength="49.74" lengthAdjust="spacingAndGlyphs">Total</text>
<text transform="translate(1240.10,675.91) rotate(-90)" x="0" y="0" font-size="23.69" fill="#1f1f1f" textLength="29.53" lengthAdjust="spacingAndGlyphs">PN</text>
<text transform="translate(1240.10,640.64) rotate(-90)" x="0" y="0" font-size="23.69" fill="#1f1f1f" textLength="20.37" lengthAdjust="spacingAndGlyphs">(#</text>
<text transform="translate(1240.10,614.52) rotate(-90)" x="0" y="0" font-size="23.69" fill="#1f1f1f" textLength="87.71" lengthAdjust="spacingAndGlyphs">particles</text>
<text transform="translate(1240.10,521.07) rotate(-90)" x="0" y="0" font-size="23.69" fill="#1f1f1f" textLength="11.01" lengthAdjust="spacingAndGlyphs">x</text>
<text transform="translate(1240.10,504.31) rotate(-90)" x="0" y="0" font-size="23.69" fill="#1f1f1f" textLength="25.76" lengthAdjust="spacingAndGlyphs">10</text>
<text transform="translate(1232.10,478.55) rotate(-90)" x="0" y="0" font-size="13.71" fill="#1f1f1f" textLength="14.94" lengthAdjust="spacingAndGlyphs">14</text>
<text transform="translate(1240.10,463.61) rotate(-90)" x="0" y="0" font-size="23.69" fill="#1f1f1f" textLength="7.71" lengthAdjust="spacingAndGlyphs">)</text>
</g>
<g>
<line x1="1689.20" y1="691.00" x2="1987.20" y2="691.00" stroke="#d9d9d9" stroke-width="1.5"/>
<line x1="1689.20" y1="651.00" x2="1987.20" y2="651.00" stroke="#d9d9d9" stroke-width="1.5"/>
<line x1="1689.20" y1="611.00" x2="1987.20" y2="611.00" stroke="#d9d9d9" stroke-width="1.5"/>
<line x1="1689.20" y1="571.00" x2="1987.20" y2="571.00" stroke="#d9d9d9" stroke-width="1.5"/>
<line x1="1689.20" y1="531.00" x2="1987.20" y2="531.00" stroke="#d9d9d9" stroke-width="1.5"/>
<line x1="1689.20" y1="491.00" x2="1987.20" y2="491.00" stroke="#d9d9d9" stroke-width="1.5"/>
<line x1="1689.20" y1="451.00" x2="1987.20" y2="451.00" stroke="#d9d9d9" stroke-width="1.5"/>
<line x1="1838.20" y1="451.00" x2="1838.20" y2="731.00" stroke="#d9d9d9" stroke-width="1.5"/>
<line x1="1987.20" y1="451.00" x2="1987.20" y2="731.00" stroke="#d9d9d9" stroke-width="1.5"/>
<line x1="1689.20" y1="450.25" x2="1689.20" y2="731.80" stroke="#bfbfbf" stroke-width="1.6"/>
<line x1="1689.20" y1="731.00" x2="1987.95" y2="731.00" stroke="#bfbfbf" stroke-width="1.6"/>
<text x="1657.31" y="737.40" font-size="19.00" fill="#595959" textLength="10.39" lengthAdjust="spacingAndGlyphs">0</text>
<text x="1646.93" y="697.40" font-size="19.00" fill="#595959" textLength="20.77" lengthAdjust="spacingAndGlyphs">20</text>
<text x="1646.93" y="657.40" font-size="19.00" fill="#595959" textLength="20.77" lengthAdjust="spacingAndGlyphs">40</text>
<text x="1646.93" y="617.40" font-size="19.00" fill="#595959" textLength="20.77" lengthAdjust="spacingAndGlyphs">60</text>
<text x="1646.93" y="577.40" font-size="19.00" fill="#595959" textLength="20.77" lengthAdjust="spacingAndGlyphs">80</text>
<text x="1636.54" y="537.40" font-size="19.00" fill="#595959" textLength="31.16" lengthAdjust="spacingAndGlyphs">100</text>
<text x="1636.54" y="497.40" font-size="19.00" fill="#595959" textLength="31.16" lengthAdjust="spacingAndGlyphs">120</text>
<text x="1636.54" y="457.40" font-size="19.00" fill="#595959" textLength="31.16" lengthAdjust="spacingAndGlyphs">140</text>
<text x="1684.74" y="764.80" font-size="18.14" fill="#595959" textLength="9.92" lengthAdjust="spacingAndGlyphs">5</text>
<text x="1828.58" y="764.80" font-size="18.14" fill="#595959" textLength="19.84" lengthAdjust="spacingAndGlyphs">50</text>
<text x="1972.72" y="764.80" font-size="18.14" fill="#595959" textLength="29.76" lengthAdjust="spacingAndGlyphs">500</text>
<path d="M1701.87,723.53 C1703.18,723.73 1710.77,725.20 1713.11,725.28 C1715.45,725.37 1719.84,724.64 1721.89,724.23 C1723.94,723.82 1728.63,722.06 1730.68,721.77 C1732.73,721.48 1737.62,721.48 1739.46,721.77 C1741.31,722.06 1744.65,724.03 1746.49,724.23 C1748.33,724.44 1753.43,723.81 1755.27,723.53 C1757.12,723.24 1760.46,722.18 1762.30,721.77 C1764.15,721.36 1769.04,720.30 1771.09,720.01 C1773.14,719.73 1778.03,719.52 1779.87,719.31 C1781.71,719.11 1785.26,719.20 1786.90,718.26 C1788.54,717.31 1792.29,713.48 1793.92,711.23 C1795.56,708.98 1799.31,702.01 1800.95,698.93 C1802.59,695.86 1806.34,688.16 1807.98,684.88 C1809.62,681.60 1813.37,673.90 1815.01,670.82 C1816.65,667.75 1820.39,661.39 1822.03,658.52 C1823.67,655.65 1827.42,648.89 1829.06,646.23 C1830.70,643.56 1834.45,637.53 1836.09,635.69 C1837.73,633.84 1841.48,631.03 1843.12,630.41 C1844.76,629.80 1848.50,630.09 1850.14,630.41 C1851.78,630.74 1855.53,632.20 1857.17,633.23 C1858.81,634.25 1862.56,637.48 1864.20,639.20 C1865.84,640.92 1869.59,645.73 1871.23,647.98 C1872.87,650.24 1876.61,656.06 1878.25,658.52 C1879.89,660.98 1883.64,666.61 1885.28,669.07 C1886.92,671.52 1890.46,676.74 1892.31,679.61 C1894.15,682.48 1899.04,690.59 1901.09,693.66 C1903.14,696.74 1907.83,703.38 1909.88,705.96 C1911.93,708.54 1916.41,713.75 1918.66,715.80 C1920.92,717.85 1926.54,722.09 1929.20,723.53 C1931.87,724.96 1938.22,727.28 1941.50,728.10 C1944.78,728.92 1951.98,730.19 1957.31,730.56 C1962.64,730.92 1983.69,731.18 1987.18,731.26" fill="none" stroke="#1fb35a" stroke-width="1.6" stroke-linejoin="round" stroke-linecap="round"/>
<path d="M1701.87,718.26 C1703.18,718.26 1710.77,718.26 1713.11,718.26 C1715.45,718.26 1719.84,718.59 1721.89,718.26 C1723.94,717.93 1728.63,715.57 1730.68,715.45 C1732.73,715.32 1737.62,716.59 1739.46,717.20 C1741.31,717.82 1744.65,720.39 1746.49,720.72 C1748.33,721.04 1753.43,720.83 1755.27,720.01 C1757.12,719.19 1760.66,714.92 1762.30,713.69 C1763.94,712.46 1767.48,709.88 1769.33,709.47 C1771.17,709.06 1776.27,709.97 1778.11,710.18 C1779.96,710.38 1783.50,711.93 1785.14,711.23 C1786.78,710.53 1790.53,706.87 1792.17,704.20 C1793.81,701.54 1797.56,693.10 1799.20,688.39 C1800.84,683.68 1804.58,669.94 1806.22,663.79 C1807.86,657.65 1811.61,642.65 1813.25,635.69 C1814.89,628.72 1818.64,611.85 1820.28,604.06 C1821.92,596.27 1825.67,577.12 1827.30,568.92 C1828.94,560.73 1832.69,541.17 1834.33,533.79 C1835.97,526.41 1839.72,510.60 1841.36,505.68 C1843.00,500.76 1846.95,493.75 1848.39,491.62 C1849.82,489.49 1852.43,487.82 1853.66,487.41 C1854.89,487.00 1857.70,487.00 1858.93,488.11 C1860.16,489.22 1862.76,493.61 1864.20,496.89 C1865.63,500.17 1869.59,511.51 1871.23,516.22 C1872.87,520.93 1876.61,531.97 1878.25,537.30 C1879.89,542.63 1883.64,556.16 1885.28,561.90 C1886.92,567.64 1890.67,580.75 1892.31,586.49 C1893.95,592.23 1897.70,605.35 1899.34,611.09 C1900.98,616.83 1904.72,629.95 1906.36,635.69 C1908.00,641.42 1911.75,654.95 1913.39,660.28 C1915.03,665.61 1918.78,676.65 1920.42,681.36 C1922.06,686.08 1925.60,696.79 1927.45,700.69 C1929.29,704.58 1933.98,712.00 1936.23,714.74 C1938.48,717.49 1944.11,722.59 1946.77,724.23 C1949.44,725.87 1955.99,728.06 1959.07,728.80 C1962.14,729.54 1969.84,730.27 1973.12,730.56 C1976.40,730.84 1985.54,731.18 1987.18,731.26" fill="none" stroke="#141414" stroke-width="1.7" stroke-linejoin="round" stroke-linecap="round"/>
<rect x="1691.90" y="462.70" width="125.20" height="59.80" fill="#fff" stroke="#111" stroke-width="1.8"/>
<line x1="1705.10" y1="477.90" x2="1740.90" y2="477.90" stroke="#00b050" stroke-width="1.6"/>
<text x="1745.90" y="483.70" font-size="16.86" fill="#4d4d4d" textLength="61.20" lengthAdjust="spacingAndGlyphs">GEE-30</text>
<line x1="1705.10" y1="508.80" x2="1740.90" y2="508.80" stroke="#777" stroke-width="3.3"/>
<text x="1746.70" y="514.00" font-size="17.44" fill="#4d4d4d" textLength="50.90" lengthAdjust="spacingAndGlyphs">Diesel</text>
<text x="1789.80" y="437.90" font-size="25.29" fill="#595959" textLength="47.10" lengthAdjust="spacingAndGlyphs">Total</text>
<text x="1722.00" y="791.40" font-size="24.27" fill="#1f1f1f" textLength="76.37" lengthAdjust="spacingAndGlyphs">Particle</text>
<text x="1804.07" y="791.40" font-size="24.27" fill="#1f1f1f" textLength="93.15" lengthAdjust="spacingAndGlyphs">diameter</text>
<text x="1902.93" y="791.40" font-size="24.27" fill="#1f1f1f" textLength="48.67" lengthAdjust="spacingAndGlyphs">(nm)</text>
<text transform="translate(1639.30,739.90) rotate(-90)" x="0" y="0" font-size="23.84" fill="#1f1f1f" textLength="49.60" lengthAdjust="spacingAndGlyphs">Total</text>
<text transform="translate(1639.30,684.58) rotate(-90)" x="0" y="0" font-size="23.84" fill="#1f1f1f" textLength="29.45" lengthAdjust="spacingAndGlyphs">PN</text>
<text transform="translate(1639.30,649.40) rotate(-90)" x="0" y="0" font-size="23.84" fill="#1f1f1f" textLength="20.31" lengthAdjust="spacingAndGlyphs">(#</text>
<text transform="translate(1639.30,623.36) rotate(-90)" x="0" y="0" font-size="23.84" fill="#1f1f1f" textLength="87.46" lengthAdjust="spacingAndGlyphs">particles</text>
<text transform="translate(1639.30,530.18) rotate(-90)" x="0" y="0" font-size="23.84" fill="#1f1f1f" textLength="10.98" lengthAdjust="spacingAndGlyphs">x</text>
<text transform="translate(1639.30,513.47) rotate(-90)" x="0" y="0" font-size="23.84" fill="#1f1f1f" textLength="25.69" lengthAdjust="spacingAndGlyphs">10</text>
<text transform="translate(1631.40,487.78) rotate(-90)" x="0" y="0" font-size="15.29" fill="#1f1f1f" textLength="14.90" lengthAdjust="spacingAndGlyphs">14</text>
<text transform="translate(1639.30,472.89) rotate(-90)" x="0" y="0" font-size="23.84" fill="#1f1f1f" textLength="7.69" lengthAdjust="spacingAndGlyphs">)</text>
</g>
</svg>
</body></html>
